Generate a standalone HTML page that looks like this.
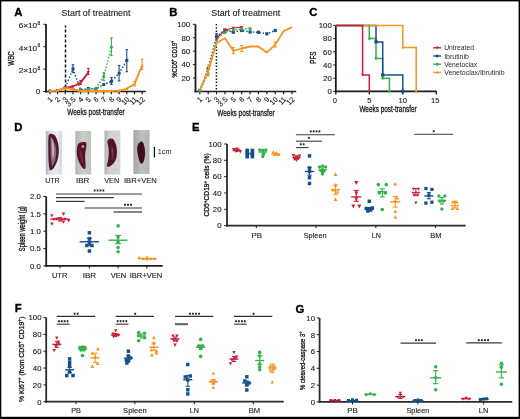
<!DOCTYPE html><html><head><meta charset="utf-8"><style>html,body{margin:0;padding:0;background:#fff;width:520px;height:419px;overflow:hidden}svg{display:block;font-family:"Liberation Sans",sans-serif;will-change:transform}</style></head><body>
<svg width="520" height="419" viewBox="0 0 520 419">
<rect x="0" y="0" width="520" height="419" fill="#fff"/>
<text x="14.2" y="15.6" font-size="11.3" text-anchor="start" font-weight="bold" fill="#000" stroke="#000" stroke-width="0.35">A</text>
<text x="61.5" y="15.8" font-size="9.6" text-anchor="start" font-weight="normal" fill="#222" stroke="#222" stroke-width="0.12" textLength="69" lengthAdjust="spacingAndGlyphs">Start of treatment</text>
<line x1="46" y1="24" x2="46" y2="92.4" stroke="#1c1c1c" stroke-width="1.8" stroke-linecap="butt"/>
<line x1="43.4" y1="91.5" x2="46" y2="91.5" stroke="#1c1c1c" stroke-width="1" stroke-linecap="butt"/>
<text x="40.3" y="94.2" font-size="7.6" text-anchor="end" font-weight="normal" fill="#1a1a1a" stroke="#1a1a1a" stroke-width="0.12">0</text>
<line x1="43.4" y1="69.1" x2="46" y2="69.1" stroke="#1c1c1c" stroke-width="1" stroke-linecap="butt"/>
<text x="37.2" y="73.1" font-size="7.4" text-anchor="end" font-weight="normal" fill="#1a1a1a" stroke="#1a1a1a" stroke-width="0.12" textLength="18.5" lengthAdjust="spacingAndGlyphs">2×10</text>
<text x="37.4" y="69.7" font-size="4.8" text-anchor="start" font-weight="normal" fill="#1a1a1a" stroke="#1a1a1a" stroke-width="0.12">8</text>
<line x1="43.4" y1="46.7" x2="46" y2="46.7" stroke="#1c1c1c" stroke-width="1" stroke-linecap="butt"/>
<text x="37.2" y="50.7" font-size="7.4" text-anchor="end" font-weight="normal" fill="#1a1a1a" stroke="#1a1a1a" stroke-width="0.12" textLength="18.5" lengthAdjust="spacingAndGlyphs">4×10</text>
<text x="37.4" y="47.3" font-size="4.8" text-anchor="start" font-weight="normal" fill="#1a1a1a" stroke="#1a1a1a" stroke-width="0.12">8</text>
<line x1="43.4" y1="24.3" x2="46" y2="24.3" stroke="#1c1c1c" stroke-width="1" stroke-linecap="butt"/>
<text x="37.2" y="28.3" font-size="7.4" text-anchor="end" font-weight="normal" fill="#1a1a1a" stroke="#1a1a1a" stroke-width="0.12" textLength="18.5" lengthAdjust="spacingAndGlyphs">6×10</text>
<text x="37.4" y="24.9" font-size="4.8" text-anchor="start" font-weight="normal" fill="#1a1a1a" stroke="#1a1a1a" stroke-width="0.12">8</text>
<text x="13.8" y="58.5" font-size="8.2" text-anchor="middle" font-weight="normal" fill="#111" stroke="#111" stroke-width="0.3" transform="rotate(-90 13.8 58.5)" textLength="14.3" lengthAdjust="spacingAndGlyphs">WBC</text>
<line x1="45.1" y1="91.5" x2="145.8" y2="91.5" stroke="#1c1c1c" stroke-width="1.6" stroke-linecap="butt"/>
<line x1="49.9" y1="91.5" x2="49.9" y2="94.3" stroke="#1c1c1c" stroke-width="1.2" stroke-linecap="butt"/>
<text x="53" y="99.8" font-size="7.3" text-anchor="end" font-weight="normal" fill="#1a1a1a" stroke="#1a1a1a" stroke-width="0.12" transform="rotate(-45 53 99.8)">1</text>
<line x1="57.59" y1="91.5" x2="57.59" y2="94.3" stroke="#1c1c1c" stroke-width="1.2" stroke-linecap="butt"/>
<text x="60.69" y="99.8" font-size="7.3" text-anchor="end" font-weight="normal" fill="#1a1a1a" stroke="#1a1a1a" stroke-width="0.12" transform="rotate(-45 60.69 99.8)">2</text>
<line x1="65.28" y1="91.5" x2="65.28" y2="94.3" stroke="#1c1c1c" stroke-width="1.2" stroke-linecap="butt"/>
<text x="68.38" y="99.8" font-size="7.3" text-anchor="end" font-weight="normal" fill="#1a1a1a" stroke="#1a1a1a" stroke-width="0.12" transform="rotate(-45 68.38 99.8)">3</text>
<line x1="72.97" y1="91.5" x2="72.97" y2="94.3" stroke="#1c1c1c" stroke-width="1.2" stroke-linecap="butt"/>
<text x="76.07" y="99.8" font-size="7.3" text-anchor="end" font-weight="normal" fill="#1a1a1a" stroke="#1a1a1a" stroke-width="0.12" transform="rotate(-45 76.07 99.8)">3.5</text>
<line x1="80.66" y1="91.5" x2="80.66" y2="94.3" stroke="#1c1c1c" stroke-width="1.2" stroke-linecap="butt"/>
<text x="83.76" y="99.8" font-size="7.3" text-anchor="end" font-weight="normal" fill="#1a1a1a" stroke="#1a1a1a" stroke-width="0.12" transform="rotate(-45 83.76 99.8)">4</text>
<line x1="88.35" y1="91.5" x2="88.35" y2="94.3" stroke="#1c1c1c" stroke-width="1.2" stroke-linecap="butt"/>
<text x="91.45" y="99.8" font-size="7.3" text-anchor="end" font-weight="normal" fill="#1a1a1a" stroke="#1a1a1a" stroke-width="0.12" transform="rotate(-45 91.45 99.8)">5</text>
<line x1="96.04" y1="91.5" x2="96.04" y2="94.3" stroke="#1c1c1c" stroke-width="1.2" stroke-linecap="butt"/>
<text x="99.14" y="99.8" font-size="7.3" text-anchor="end" font-weight="normal" fill="#1a1a1a" stroke="#1a1a1a" stroke-width="0.12" transform="rotate(-45 99.14 99.8)">6</text>
<line x1="103.73" y1="91.5" x2="103.73" y2="94.3" stroke="#1c1c1c" stroke-width="1.2" stroke-linecap="butt"/>
<text x="106.83" y="99.8" font-size="7.3" text-anchor="end" font-weight="normal" fill="#1a1a1a" stroke="#1a1a1a" stroke-width="0.12" transform="rotate(-45 106.83 99.8)">7</text>
<line x1="111.42" y1="91.5" x2="111.42" y2="94.3" stroke="#1c1c1c" stroke-width="1.2" stroke-linecap="butt"/>
<text x="114.52" y="99.8" font-size="7.3" text-anchor="end" font-weight="normal" fill="#1a1a1a" stroke="#1a1a1a" stroke-width="0.12" transform="rotate(-45 114.52 99.8)">8</text>
<line x1="119.11" y1="91.5" x2="119.11" y2="94.3" stroke="#1c1c1c" stroke-width="1.2" stroke-linecap="butt"/>
<text x="122.21" y="99.8" font-size="7.3" text-anchor="end" font-weight="normal" fill="#1a1a1a" stroke="#1a1a1a" stroke-width="0.12" transform="rotate(-45 122.21 99.8)">9</text>
<line x1="126.8" y1="91.5" x2="126.8" y2="94.3" stroke="#1c1c1c" stroke-width="1.2" stroke-linecap="butt"/>
<text x="129.9" y="99.8" font-size="7.3" text-anchor="end" font-weight="normal" fill="#1a1a1a" stroke="#1a1a1a" stroke-width="0.12" transform="rotate(-45 129.9 99.8)">10</text>
<line x1="134.49" y1="91.5" x2="134.49" y2="94.3" stroke="#1c1c1c" stroke-width="1.2" stroke-linecap="butt"/>
<text x="137.59" y="99.8" font-size="7.3" text-anchor="end" font-weight="normal" fill="#1a1a1a" stroke="#1a1a1a" stroke-width="0.12" transform="rotate(-45 137.59 99.8)">11</text>
<line x1="142.18" y1="91.5" x2="142.18" y2="94.3" stroke="#1c1c1c" stroke-width="1.2" stroke-linecap="butt"/>
<text x="145.28" y="99.8" font-size="7.3" text-anchor="end" font-weight="normal" fill="#1a1a1a" stroke="#1a1a1a" stroke-width="0.12" transform="rotate(-45 145.28 99.8)">12</text>
<text x="67.3" y="114.8" font-size="9.3" text-anchor="start" font-weight="normal" fill="#111" stroke="#111" stroke-width="0.28" textLength="57.3" lengthAdjust="spacingAndGlyphs">Weeks post-transfer</text>
<line x1="65.5" y1="25.6" x2="65.5" y2="91.5" stroke="#111" stroke-width="1.5" stroke-dasharray="3,2" stroke-dashoffset="1"/>
<polyline points="49.9,91 57.59,90.6 65.28,87.5 72.97,68.8 80.66,90 88.35,88.5 96.04,88.8 103.73,84.5 111.42,81.4 119.11,73.3 126.8,60.4" fill="none" stroke="#15508c" stroke-width="1.5" stroke-linecap="butt" stroke-linejoin="round" stroke-dasharray="1.4,1.9"/>
<line x1="72.97" y1="64.8" x2="72.97" y2="72.4" stroke="#15508c" stroke-width="1.1" stroke-linecap="butt"/>
<line x1="71.67" y1="64.8" x2="74.27" y2="64.8" stroke="#15508c" stroke-width="1.1" stroke-linecap="butt"/>
<line x1="71.67" y1="72.4" x2="74.27" y2="72.4" stroke="#15508c" stroke-width="1.1" stroke-linecap="butt"/>
<line x1="111.42" y1="77.5" x2="111.42" y2="84.5" stroke="#15508c" stroke-width="1.1" stroke-linecap="butt"/>
<line x1="110.12" y1="77.5" x2="112.72" y2="77.5" stroke="#15508c" stroke-width="1.1" stroke-linecap="butt"/>
<line x1="110.12" y1="84.5" x2="112.72" y2="84.5" stroke="#15508c" stroke-width="1.1" stroke-linecap="butt"/>
<line x1="119.11" y1="65.4" x2="119.11" y2="80.9" stroke="#15508c" stroke-width="1.1" stroke-linecap="butt"/>
<line x1="117.81" y1="65.4" x2="120.41" y2="65.4" stroke="#15508c" stroke-width="1.1" stroke-linecap="butt"/>
<line x1="117.81" y1="80.9" x2="120.41" y2="80.9" stroke="#15508c" stroke-width="1.1" stroke-linecap="butt"/>
<line x1="126.8" y1="49.7" x2="126.8" y2="71.7" stroke="#15508c" stroke-width="1.1" stroke-linecap="butt"/>
<line x1="125.5" y1="49.7" x2="128.1" y2="49.7" stroke="#15508c" stroke-width="1.1" stroke-linecap="butt"/>
<line x1="125.5" y1="71.7" x2="128.1" y2="71.7" stroke="#15508c" stroke-width="1.1" stroke-linecap="butt"/>
<rect x="48.4" y="89.5" width="3" height="3" fill="#15508c"/>
<rect x="56.09" y="89.1" width="3" height="3" fill="#15508c"/>
<rect x="63.78" y="86" width="3" height="3" fill="#15508c"/>
<rect x="71.47" y="67.3" width="3" height="3" fill="#15508c"/>
<rect x="79.16" y="88.5" width="3" height="3" fill="#15508c"/>
<rect x="86.85" y="87" width="3" height="3" fill="#15508c"/>
<rect x="94.54" y="87.3" width="3" height="3" fill="#15508c"/>
<rect x="102.23" y="83" width="3" height="3" fill="#15508c"/>
<rect x="109.92" y="79.9" width="3" height="3" fill="#15508c"/>
<rect x="117.61" y="71.8" width="3" height="3" fill="#15508c"/>
<rect x="125.3" y="58.9" width="3" height="3" fill="#15508c"/>
<polyline points="72.97,89 80.66,90.8 88.35,89.5 96.04,88 103.73,76.6 111.42,47.1" fill="none" stroke="#33b24a" stroke-width="1.5" stroke-linecap="butt" stroke-linejoin="round" stroke-dasharray="1.4,1.9"/>
<line x1="103.73" y1="72.7" x2="103.73" y2="80.5" stroke="#33b24a" stroke-width="1.1" stroke-linecap="butt"/>
<line x1="102.43" y1="72.7" x2="105.03" y2="72.7" stroke="#33b24a" stroke-width="1.1" stroke-linecap="butt"/>
<line x1="102.43" y1="80.5" x2="105.03" y2="80.5" stroke="#33b24a" stroke-width="1.1" stroke-linecap="butt"/>
<line x1="111.42" y1="37.9" x2="111.42" y2="55.6" stroke="#33b24a" stroke-width="1.1" stroke-linecap="butt"/>
<line x1="110.12" y1="37.9" x2="112.72" y2="37.9" stroke="#33b24a" stroke-width="1.1" stroke-linecap="butt"/>
<line x1="110.12" y1="55.6" x2="112.72" y2="55.6" stroke="#33b24a" stroke-width="1.1" stroke-linecap="butt"/>
<circle cx="72.97" cy="89" r="1.54" fill="#33b24a"/>
<circle cx="80.66" cy="90.8" r="1.54" fill="#33b24a"/>
<circle cx="88.35" cy="89.5" r="1.54" fill="#33b24a"/>
<circle cx="96.04" cy="88" r="1.54" fill="#33b24a"/>
<circle cx="103.73" cy="76.6" r="1.54" fill="#33b24a"/>
<circle cx="111.42" cy="47.1" r="1.54" fill="#33b24a"/>
<polyline points="65.28,88 72.97,86.5 80.66,82.6 88.35,72.4" fill="none" stroke="#c8203c" stroke-width="1.9" stroke-linecap="butt" stroke-linejoin="round"/>
<line x1="80.66" y1="80.5" x2="80.66" y2="84.5" stroke="#c8203c" stroke-width="1.1" stroke-linecap="butt"/>
<line x1="79.36" y1="80.5" x2="81.96" y2="80.5" stroke="#c8203c" stroke-width="1.1" stroke-linecap="butt"/>
<line x1="79.36" y1="84.5" x2="81.96" y2="84.5" stroke="#c8203c" stroke-width="1.1" stroke-linecap="butt"/>
<line x1="88.35" y1="68.4" x2="88.35" y2="74.5" stroke="#c8203c" stroke-width="1.1" stroke-linecap="butt"/>
<line x1="87.05" y1="68.4" x2="89.65" y2="68.4" stroke="#c8203c" stroke-width="1.1" stroke-linecap="butt"/>
<line x1="87.05" y1="74.5" x2="89.65" y2="74.5" stroke="#c8203c" stroke-width="1.1" stroke-linecap="butt"/>
<path d="M63.67,86.71H66.89L65.28,89.77Z" fill="#c8203c"/>
<path d="M71.36,85.21H74.58L72.97,88.27Z" fill="#c8203c"/>
<path d="M79.05,81.31H82.27L80.66,84.37Z" fill="#c8203c"/>
<path d="M86.74,71.11H89.96L88.35,74.17Z" fill="#c8203c"/>
<polyline points="49.9,91 57.59,90.5 65.28,88 72.97,89.5 80.66,91 88.35,91 96.04,91 103.73,91 111.42,91 119.11,90.6 126.8,88.8 134.49,83.8 142.18,65.4" fill="none" stroke="#f7941d" stroke-width="1.9" stroke-linecap="butt" stroke-linejoin="round"/>
<line x1="134.49" y1="81.5" x2="134.49" y2="86" stroke="#f7941d" stroke-width="1.1" stroke-linecap="butt"/>
<line x1="133.19" y1="81.5" x2="135.79" y2="81.5" stroke="#f7941d" stroke-width="1.1" stroke-linecap="butt"/>
<line x1="133.19" y1="86" x2="135.79" y2="86" stroke="#f7941d" stroke-width="1.1" stroke-linecap="butt"/>
<line x1="142.18" y1="59.1" x2="142.18" y2="69.4" stroke="#f7941d" stroke-width="1.1" stroke-linecap="butt"/>
<line x1="140.88" y1="59.1" x2="143.48" y2="59.1" stroke="#f7941d" stroke-width="1.1" stroke-linecap="butt"/>
<line x1="140.88" y1="69.4" x2="143.48" y2="69.4" stroke="#f7941d" stroke-width="1.1" stroke-linecap="butt"/>
<path d="M48.29,92.29H51.51L49.9,89.23Z" fill="#f7941d"/>
<path d="M55.98,91.79H59.2L57.59,88.73Z" fill="#f7941d"/>
<path d="M63.67,89.29H66.89L65.28,86.23Z" fill="#f7941d"/>
<path d="M71.36,90.79H74.58L72.97,87.73Z" fill="#f7941d"/>
<path d="M79.05,92.29H82.27L80.66,89.23Z" fill="#f7941d"/>
<path d="M86.74,92.29H89.96L88.35,89.23Z" fill="#f7941d"/>
<path d="M94.43,92.29H97.65L96.04,89.23Z" fill="#f7941d"/>
<path d="M102.12,92.29H105.34L103.73,89.23Z" fill="#f7941d"/>
<path d="M109.81,92.29H113.03L111.42,89.23Z" fill="#f7941d"/>
<path d="M117.5,91.89H120.72L119.11,88.83Z" fill="#f7941d"/>
<path d="M125.19,90.09H128.41L126.8,87.03Z" fill="#f7941d"/>
<path d="M132.88,85.09H136.1L134.49,82.03Z" fill="#f7941d"/>
<path d="M140.57,66.69H143.79L142.18,63.63Z" fill="#f7941d"/>
<text x="169.2" y="15.6" font-size="11.3" text-anchor="start" font-weight="bold" fill="#000" stroke="#000" stroke-width="0.35">B</text>
<text x="211.2" y="16" font-size="9.6" text-anchor="start" font-weight="normal" fill="#222" stroke="#222" stroke-width="0.12" textLength="69" lengthAdjust="spacingAndGlyphs">Start of treatment</text>
<line x1="195.5" y1="24.3" x2="195.5" y2="92.4" stroke="#1c1c1c" stroke-width="1.8" stroke-linecap="butt"/>
<line x1="192.9" y1="78.06" x2="195.5" y2="78.06" stroke="#1c1c1c" stroke-width="1" stroke-linecap="butt"/>
<text x="190.2" y="80.86" font-size="7.8" text-anchor="end" font-weight="normal" fill="#1a1a1a" stroke="#1a1a1a" stroke-width="0.12">20</text>
<line x1="192.9" y1="64.62" x2="195.5" y2="64.62" stroke="#1c1c1c" stroke-width="1" stroke-linecap="butt"/>
<text x="190.2" y="67.42" font-size="7.8" text-anchor="end" font-weight="normal" fill="#1a1a1a" stroke="#1a1a1a" stroke-width="0.12">40</text>
<line x1="192.9" y1="51.18" x2="195.5" y2="51.18" stroke="#1c1c1c" stroke-width="1" stroke-linecap="butt"/>
<text x="190.2" y="53.98" font-size="7.8" text-anchor="end" font-weight="normal" fill="#1a1a1a" stroke="#1a1a1a" stroke-width="0.12">60</text>
<line x1="192.9" y1="37.74" x2="195.5" y2="37.74" stroke="#1c1c1c" stroke-width="1" stroke-linecap="butt"/>
<text x="190.2" y="40.54" font-size="7.8" text-anchor="end" font-weight="normal" fill="#1a1a1a" stroke="#1a1a1a" stroke-width="0.12">80</text>
<line x1="192.9" y1="24.3" x2="195.5" y2="24.3" stroke="#1c1c1c" stroke-width="1" stroke-linecap="butt"/>
<text x="190.2" y="27.1" font-size="7.8" text-anchor="end" font-weight="normal" fill="#1a1a1a" stroke="#1a1a1a" stroke-width="0.12">100</text>
<text x="176.6" y="59.1" font-size="7.5" text-anchor="middle" font-weight="normal" fill="#111" stroke="#111" stroke-width="0.3" transform="rotate(-90 176.6 59.1)" textLength="36.7" lengthAdjust="spacingAndGlyphs">%CD5<tspan font-size="5" dy="-2.6">+</tspan><tspan dy="2.6"> CD19</tspan><tspan font-size="5" dy="-2.6">+</tspan></text>
<line x1="194.6" y1="91.5" x2="296.2" y2="91.5" stroke="#1c1c1c" stroke-width="1.6" stroke-linecap="butt"/>
<line x1="199.8" y1="91.5" x2="199.8" y2="94.3" stroke="#1c1c1c" stroke-width="1.2" stroke-linecap="butt"/>
<text x="202.9" y="99.8" font-size="7.3" text-anchor="end" font-weight="normal" fill="#1a1a1a" stroke="#1a1a1a" stroke-width="0.12" transform="rotate(-45 202.9 99.8)">1</text>
<line x1="208.18" y1="91.5" x2="208.18" y2="94.3" stroke="#1c1c1c" stroke-width="1.2" stroke-linecap="butt"/>
<text x="211.28" y="99.8" font-size="7.3" text-anchor="end" font-weight="normal" fill="#1a1a1a" stroke="#1a1a1a" stroke-width="0.12" transform="rotate(-45 211.28 99.8)">2</text>
<line x1="216.56" y1="91.5" x2="216.56" y2="94.3" stroke="#1c1c1c" stroke-width="1.2" stroke-linecap="butt"/>
<text x="219.66" y="99.8" font-size="7.3" text-anchor="end" font-weight="normal" fill="#1a1a1a" stroke="#1a1a1a" stroke-width="0.12" transform="rotate(-45 219.66 99.8)">3</text>
<line x1="224.94" y1="91.5" x2="224.94" y2="94.3" stroke="#1c1c1c" stroke-width="1.2" stroke-linecap="butt"/>
<text x="228.04" y="99.8" font-size="7.3" text-anchor="end" font-weight="normal" fill="#1a1a1a" stroke="#1a1a1a" stroke-width="0.12" transform="rotate(-45 228.04 99.8)">3.5</text>
<line x1="233.32" y1="91.5" x2="233.32" y2="94.3" stroke="#1c1c1c" stroke-width="1.2" stroke-linecap="butt"/>
<text x="236.42" y="99.8" font-size="7.3" text-anchor="end" font-weight="normal" fill="#1a1a1a" stroke="#1a1a1a" stroke-width="0.12" transform="rotate(-45 236.42 99.8)">5</text>
<line x1="241.7" y1="91.5" x2="241.7" y2="94.3" stroke="#1c1c1c" stroke-width="1.2" stroke-linecap="butt"/>
<text x="244.8" y="99.8" font-size="7.3" text-anchor="end" font-weight="normal" fill="#1a1a1a" stroke="#1a1a1a" stroke-width="0.12" transform="rotate(-45 244.8 99.8)">6</text>
<line x1="250.08" y1="91.5" x2="250.08" y2="94.3" stroke="#1c1c1c" stroke-width="1.2" stroke-linecap="butt"/>
<text x="253.18" y="99.8" font-size="7.3" text-anchor="end" font-weight="normal" fill="#1a1a1a" stroke="#1a1a1a" stroke-width="0.12" transform="rotate(-45 253.18 99.8)">7</text>
<line x1="258.46" y1="91.5" x2="258.46" y2="94.3" stroke="#1c1c1c" stroke-width="1.2" stroke-linecap="butt"/>
<text x="261.56" y="99.8" font-size="7.3" text-anchor="end" font-weight="normal" fill="#1a1a1a" stroke="#1a1a1a" stroke-width="0.12" transform="rotate(-45 261.56 99.8)">8</text>
<line x1="266.84" y1="91.5" x2="266.84" y2="94.3" stroke="#1c1c1c" stroke-width="1.2" stroke-linecap="butt"/>
<text x="269.94" y="99.8" font-size="7.3" text-anchor="end" font-weight="normal" fill="#1a1a1a" stroke="#1a1a1a" stroke-width="0.12" transform="rotate(-45 269.94 99.8)">9</text>
<line x1="275.22" y1="91.5" x2="275.22" y2="94.3" stroke="#1c1c1c" stroke-width="1.2" stroke-linecap="butt"/>
<text x="278.32" y="99.8" font-size="7.3" text-anchor="end" font-weight="normal" fill="#1a1a1a" stroke="#1a1a1a" stroke-width="0.12" transform="rotate(-45 278.32 99.8)">10</text>
<line x1="283.6" y1="91.5" x2="283.6" y2="94.3" stroke="#1c1c1c" stroke-width="1.2" stroke-linecap="butt"/>
<text x="286.7" y="99.8" font-size="7.3" text-anchor="end" font-weight="normal" fill="#1a1a1a" stroke="#1a1a1a" stroke-width="0.12" transform="rotate(-45 286.7 99.8)">11</text>
<line x1="291.98" y1="91.5" x2="291.98" y2="94.3" stroke="#1c1c1c" stroke-width="1.2" stroke-linecap="butt"/>
<text x="295.08" y="99.8" font-size="7.3" text-anchor="end" font-weight="normal" fill="#1a1a1a" stroke="#1a1a1a" stroke-width="0.12" transform="rotate(-45 295.08 99.8)">12</text>
<text x="217.3" y="116.3" font-size="9.3" text-anchor="start" font-weight="normal" fill="#111" stroke="#111" stroke-width="0.28" textLength="57.3" lengthAdjust="spacingAndGlyphs">Weeks post-transfer</text>
<line x1="216.4" y1="24" x2="216.4" y2="91.5" stroke="#111" stroke-width="1.4" stroke-linecap="butt" stroke-dasharray="1.5,1.7"/>
<polyline points="199.8,90.5 208.18,68.4 216.56,36.5 224.94,30 233.32,32.2 241.7,30.5 250.08,32 258.46,32.3 266.84,33.8 275.22,30.5" fill="none" stroke="#15508c" stroke-width="1.5" stroke-linecap="butt" stroke-linejoin="round" stroke-dasharray="1.4,1.9"/>
<rect x="198.2" y="88.9" width="3.2" height="3.2" fill="#15508c"/>
<rect x="206.58" y="66.8" width="3.2" height="3.2" fill="#15508c"/>
<rect x="214.96" y="34.9" width="3.2" height="3.2" fill="#15508c"/>
<rect x="223.34" y="28.4" width="3.2" height="3.2" fill="#15508c"/>
<rect x="231.72" y="30.6" width="3.2" height="3.2" fill="#15508c"/>
<rect x="240.1" y="28.9" width="3.2" height="3.2" fill="#15508c"/>
<rect x="248.48" y="30.4" width="3.2" height="3.2" fill="#15508c"/>
<rect x="256.86" y="30.7" width="3.2" height="3.2" fill="#15508c"/>
<rect x="265.24" y="32.2" width="3.2" height="3.2" fill="#15508c"/>
<rect x="273.62" y="28.9" width="3.2" height="3.2" fill="#15508c"/>
<line x1="216.56" y1="33.5" x2="216.56" y2="39.5" stroke="#15508c" stroke-width="1.1" stroke-linecap="butt"/>
<line x1="215.26" y1="33.5" x2="217.86" y2="33.5" stroke="#15508c" stroke-width="1.1" stroke-linecap="butt"/>
<line x1="215.26" y1="39.5" x2="217.86" y2="39.5" stroke="#15508c" stroke-width="1.1" stroke-linecap="butt"/>
<polyline points="199.8,90.8 208.18,73.5 216.56,39.7 224.94,32.5 233.32,29.9 241.7,29 250.08,28.5" fill="none" stroke="#33b24a" stroke-width="1.5" stroke-linecap="butt" stroke-linejoin="round" stroke-dasharray="1.4,1.9"/>
<circle cx="199.8" cy="90.8" r="1.54" fill="#33b24a"/>
<circle cx="208.18" cy="73.5" r="1.54" fill="#33b24a"/>
<circle cx="216.56" cy="39.7" r="1.54" fill="#33b24a"/>
<circle cx="224.94" cy="32.5" r="1.54" fill="#33b24a"/>
<circle cx="233.32" cy="29.9" r="1.54" fill="#33b24a"/>
<circle cx="241.7" cy="29" r="1.54" fill="#33b24a"/>
<circle cx="250.08" cy="28.5" r="1.54" fill="#33b24a"/>
<polyline points="216.56,38.5 224.94,30 233.32,28 241.7,27.2" fill="none" stroke="#c8203c" stroke-width="1.2" stroke-linecap="butt" stroke-linejoin="round"/>
<path d="M214.95,37.21H218.17L216.56,40.27Z" fill="#c8203c"/>
<path d="M223.33,28.71H226.55L224.94,31.77Z" fill="#c8203c"/>
<path d="M231.71,26.71H234.93L233.32,29.77Z" fill="#c8203c"/>
<path d="M240.09,25.91H243.31L241.7,28.97Z" fill="#c8203c"/>
<polyline points="199.8,90 208.18,71 216.56,43 224.94,38.2 233.32,50.8 241.7,48.5 250.08,46.5 258.46,46.5 266.84,52.6 275.22,44.6 283.6,31.1 291.98,27.2" fill="none" stroke="#f7941d" stroke-width="1.8" stroke-linecap="butt" stroke-linejoin="round"/>
<line x1="208.18" y1="65" x2="208.18" y2="76" stroke="#f7941d" stroke-width="1.1" stroke-linecap="butt"/>
<line x1="206.68" y1="65" x2="209.68" y2="65" stroke="#f7941d" stroke-width="1.1" stroke-linecap="butt"/>
<line x1="206.68" y1="76" x2="209.68" y2="76" stroke="#f7941d" stroke-width="1.1" stroke-linecap="butt"/>
<line x1="233.32" y1="47.5" x2="233.32" y2="53.5" stroke="#f7941d" stroke-width="1.1" stroke-linecap="butt"/>
<line x1="231.82" y1="47.5" x2="234.82" y2="47.5" stroke="#f7941d" stroke-width="1.1" stroke-linecap="butt"/>
<line x1="231.82" y1="53.5" x2="234.82" y2="53.5" stroke="#f7941d" stroke-width="1.1" stroke-linecap="butt"/>
<line x1="241.7" y1="45.5" x2="241.7" y2="51.5" stroke="#f7941d" stroke-width="1.1" stroke-linecap="butt"/>
<line x1="240.2" y1="45.5" x2="243.2" y2="45.5" stroke="#f7941d" stroke-width="1.1" stroke-linecap="butt"/>
<line x1="240.2" y1="51.5" x2="243.2" y2="51.5" stroke="#f7941d" stroke-width="1.1" stroke-linecap="butt"/>
<line x1="275.22" y1="42" x2="275.22" y2="47" stroke="#f7941d" stroke-width="1.1" stroke-linecap="butt"/>
<line x1="273.72" y1="42" x2="276.72" y2="42" stroke="#f7941d" stroke-width="1.1" stroke-linecap="butt"/>
<line x1="273.72" y1="47" x2="276.72" y2="47" stroke="#f7941d" stroke-width="1.1" stroke-linecap="butt"/>
<text x="309.2" y="15.6" font-size="11.3" text-anchor="start" font-weight="bold" fill="#000" stroke="#000" stroke-width="0.35">C</text>
<text x="315.8" y="57.6" font-size="8.2" text-anchor="middle" font-weight="normal" fill="#111" stroke="#111" stroke-width="0.3" transform="rotate(-90 315.8 57.6)" textLength="12.2" lengthAdjust="spacingAndGlyphs">PFS</text>
<line x1="335.8" y1="25.4" x2="335.8" y2="92.3" stroke="#1c1c1c" stroke-width="1.8" stroke-linecap="butt"/>
<line x1="333.2" y1="91.4" x2="335.8" y2="91.4" stroke="#1c1c1c" stroke-width="1" stroke-linecap="butt"/>
<text x="331.8" y="94.2" font-size="7.8" text-anchor="end" font-weight="normal" fill="#222" stroke="#222" stroke-width="0.12">0</text>
<line x1="333.2" y1="78.2" x2="335.8" y2="78.2" stroke="#1c1c1c" stroke-width="1" stroke-linecap="butt"/>
<text x="331.8" y="81" font-size="7.8" text-anchor="end" font-weight="normal" fill="#222" stroke="#222" stroke-width="0.12">20</text>
<line x1="333.2" y1="65" x2="335.8" y2="65" stroke="#1c1c1c" stroke-width="1" stroke-linecap="butt"/>
<text x="331.8" y="67.8" font-size="7.8" text-anchor="end" font-weight="normal" fill="#222" stroke="#222" stroke-width="0.12">40</text>
<line x1="333.2" y1="51.8" x2="335.8" y2="51.8" stroke="#1c1c1c" stroke-width="1" stroke-linecap="butt"/>
<text x="331.8" y="54.6" font-size="7.8" text-anchor="end" font-weight="normal" fill="#222" stroke="#222" stroke-width="0.12">60</text>
<line x1="333.2" y1="38.6" x2="335.8" y2="38.6" stroke="#1c1c1c" stroke-width="1" stroke-linecap="butt"/>
<text x="331.8" y="41.4" font-size="7.8" text-anchor="end" font-weight="normal" fill="#222" stroke="#222" stroke-width="0.12">80</text>
<line x1="333.2" y1="25.4" x2="335.8" y2="25.4" stroke="#1c1c1c" stroke-width="1" stroke-linecap="butt"/>
<text x="331.8" y="28.2" font-size="7.8" text-anchor="end" font-weight="normal" fill="#222" stroke="#222" stroke-width="0.12">100</text>
<line x1="334.9" y1="91.4" x2="436.8" y2="91.4" stroke="#1c1c1c" stroke-width="1.6" stroke-linecap="butt"/>
<line x1="335.8" y1="91.4" x2="335.8" y2="94.4" stroke="#1c1c1c" stroke-width="1.3" stroke-linecap="butt"/>
<text x="334.8" y="103" font-size="7.6" text-anchor="middle" font-weight="normal" fill="#1a1a1a" stroke="#1a1a1a" stroke-width="0.12">0</text>
<line x1="369.3" y1="91.4" x2="369.3" y2="94.4" stroke="#1c1c1c" stroke-width="1.3" stroke-linecap="butt"/>
<text x="369.3" y="103" font-size="7.6" text-anchor="middle" font-weight="normal" fill="#1a1a1a" stroke="#1a1a1a" stroke-width="0.12">5</text>
<line x1="402.8" y1="91.4" x2="402.8" y2="94.4" stroke="#1c1c1c" stroke-width="1.3" stroke-linecap="butt"/>
<text x="402.8" y="103" font-size="7.6" text-anchor="middle" font-weight="normal" fill="#1a1a1a" stroke="#1a1a1a" stroke-width="0.12">10</text>
<line x1="436.3" y1="91.4" x2="436.3" y2="94.4" stroke="#1c1c1c" stroke-width="1.3" stroke-linecap="butt"/>
<text x="435.3" y="103" font-size="7.6" text-anchor="middle" font-weight="normal" fill="#1a1a1a" stroke="#1a1a1a" stroke-width="0.12">15</text>
<text x="359.4" y="112.3" font-size="9.3" text-anchor="start" font-weight="normal" fill="#111" stroke="#111" stroke-width="0.28" textLength="57.3" lengthAdjust="spacingAndGlyphs">Weeks post-transfer</text>
<path d="M335.8,25.4H369.3V25.4H369.3V38.6H376V38.6H376V58.4H382.7V58.4H382.7V78.2H389.4V78.2H389.4V91.4" fill="none" stroke="#33b24a" stroke-width="1.5"/>
<circle cx="369.3" cy="38.6" r="1.43" fill="#33b24a"/>
<circle cx="376" cy="58.4" r="1.43" fill="#33b24a"/>
<circle cx="382.7" cy="78.2" r="1.43" fill="#33b24a"/>
<circle cx="389.4" cy="91.4" r="1.43" fill="#33b24a"/>
<path d="M335.8,25.4H376V25.4H376V41.9H382.7V41.9H382.7V74.9H402.8V74.9H402.8V91.4" fill="none" stroke="#15508c" stroke-width="1.5"/>
<rect x="374.4" y="40.3" width="3.2" height="3.2" fill="#15508c"/>
<rect x="381.1" y="73.3" width="3.2" height="3.2" fill="#15508c"/>
<rect x="401.2" y="89.8" width="3.2" height="3.2" fill="#15508c"/>
<path d="M335.8,25.4H402.8V25.4H402.8V47.38H416.2V47.38H416.2V91.4" fill="none" stroke="#f7941d" stroke-width="1.5"/>
<path d="M401.42,48.48H404.18L402.8,45.86Z" fill="#f7941d"/>
<path d="M414.82,92.5H417.58L416.2,89.88Z" fill="#f7941d"/>
<path d="M335.8,25.4H362.6V25.4H362.6V74.9H369.3V74.9H369.3V91.4" fill="none" stroke="#c8203c" stroke-width="1.5"/>
<path d="M361.22,73.8H363.98L362.6,76.42Z" fill="#c8203c"/>
<path d="M367.92,90.3H370.68L369.3,92.92Z" fill="#c8203c"/>
<line x1="433.2" y1="47.8" x2="441.1" y2="47.8" stroke="#c8203c" stroke-width="1.4" stroke-linecap="butt"/>
<path d="M435.7,46.6H438.69L437.2,49.44Z" fill="#c8203c"/>
<text x="444.2" y="50.3" font-size="6.6" text-anchor="start" font-weight="normal" fill="#2a2a2a" textLength="29.8" lengthAdjust="spacingAndGlyphs">Untreated</text>
<line x1="433.2" y1="56" x2="441.1" y2="56" stroke="#15508c" stroke-width="1.4" stroke-linecap="butt"/>
<rect x="435.9" y="54.7" width="2.6" height="2.6" fill="#15508c"/>
<text x="444.2" y="58.5" font-size="6.6" text-anchor="start" font-weight="normal" fill="#2a2a2a" textLength="24.7" lengthAdjust="spacingAndGlyphs">Ibrutinib</text>
<line x1="433.2" y1="64.2" x2="441.1" y2="64.2" stroke="#33b24a" stroke-width="1.4" stroke-linecap="butt"/>
<circle cx="437.2" cy="64.2" r="1.43" fill="#33b24a"/>
<text x="444.2" y="66.7" font-size="6.6" text-anchor="start" font-weight="normal" fill="#2a2a2a" textLength="32.9" lengthAdjust="spacingAndGlyphs">Venetoclax</text>
<line x1="433.2" y1="72.4" x2="441.1" y2="72.4" stroke="#f7941d" stroke-width="1.4" stroke-linecap="butt"/>
<path d="M435.7,73.6H438.69L437.2,70.76Z" fill="#f7941d"/>
<text x="444.2" y="74.9" font-size="6.6" text-anchor="start" font-weight="normal" fill="#2a2a2a" textLength="60.3" lengthAdjust="spacingAndGlyphs">Venetoclax/Ibrutinib</text>
<text x="14.2" y="131" font-size="11.3" text-anchor="start" font-weight="bold" fill="#000" stroke="#000" stroke-width="0.35">D</text>
<defs><linearGradient id="p1" x1="0" x2="1"><stop offset="0" stop-color="#aab2c2"/><stop offset="0.25" stop-color="#dfe3ea"/><stop offset="0.7" stop-color="#eef0f4"/><stop offset="1" stop-color="#d6dae2"/></linearGradient><linearGradient id="p2" x1="0" x2="1"><stop offset="0" stop-color="#b4b8b0"/><stop offset="0.5" stop-color="#cdd0c9"/><stop offset="1" stop-color="#c2c5be"/></linearGradient><linearGradient id="p3" x1="0" x2="1"><stop offset="0" stop-color="#b0b1ad"/><stop offset="0.3" stop-color="#d3d4d0"/><stop offset="1" stop-color="#d8d9d5"/></linearGradient><linearGradient id="p4" x1="0" x2="1"><stop offset="0" stop-color="#a3a5a0"/><stop offset="0.5" stop-color="#c0c1bd"/><stop offset="1" stop-color="#b3b4b0"/></linearGradient></defs>
<defs><filter id="tx" x="0" y="0" width="1" height="1"><feTurbulence type="fractalNoise" baseFrequency="0.35" numOctaves="2" seed="3" result="n"/><feColorMatrix in="n" type="matrix" values="0 0 0 0 0.45  0 0 0 0 0.45  0 0 0 0 0.45  0 0 0 -1.6 1.05" result="m"/><feComposite in="m" in2="SourceGraphic" operator="in"/></filter></defs>
<rect x="45.8" y="131" width="16.1" height="43.5" fill="url(#p1)"/>
<rect x="45.8" y="131" width="16.1" height="43.5" fill="#888" filter="url(#tx)" opacity="0.35"/>
<rect x="75.3" y="131" width="15.8" height="43.5" fill="url(#p2)"/>
<rect x="75.3" y="131" width="15.8" height="43.5" fill="#888" filter="url(#tx)" opacity="0.35"/>
<rect x="104.5" y="130.6" width="15.8" height="43.9" fill="url(#p3)"/>
<rect x="104.5" y="130.6" width="15.8" height="43.9" fill="#888" filter="url(#tx)" opacity="0.35"/>
<rect x="133.4" y="130.1" width="16.1" height="43.8" fill="url(#p4)"/>
<rect x="133.4" y="130.1" width="16.1" height="43.8" fill="#888" filter="url(#tx)" opacity="0.35"/>
<path d="M49.6,134 C51.6,133.3 54,133.8 55.6,136.4 C58.1,140.5 58.9,146 58.8,151 C58.7,158 56.6,164.5 53.4,168.6 C52.2,170 50.8,170.6 49.8,170.2 C48.6,166 48.3,160 48.3,152 C48.3,145 48.2,139.5 48.5,136.4 C48.7,135 49,134.3 49.6,134 Z" fill="#54172a"/>
<path d="M50.6,136.4 C53.6,139.5 56.1,145 56.3,151 C56.5,157 55,162.8 52.2,166.8 C51,162 50.6,156 50.6,150 C50.6,144 50.4,139.5 50.6,136.4 Z" fill="#8a6878"/>
<path d="M51.6,137.8 C53.3,141 54.2,146 54.1,151 C54,155 53.5,158 52.9,160 C52.2,156 52,150 51.8,145 Z" fill="#c7b3bd"/>
<path d="M78.9,143.2 C80.8,142.2 84,141.8 86.2,142.4 C86.8,144.5 86.3,147 85.8,150 C85.2,153 85,156 85.3,160 C85.6,163 85.8,166 85.5,168.6 C84.6,169.4 83.4,168.9 82.2,167.4 C80.2,165 78.2,161 77.2,156.5 C76.6,153 76.8,149 77.4,146 C77.8,144.6 78.3,143.6 78.9,143.2 Z" fill="#54172a"/>
<path d="M79.6,149 C81,152 82.4,157 83.4,164 C81.8,161 80,156 79.6,149 Z" fill="#7a3a50"/>
<circle cx="82.9" cy="146.5" r="1.3" fill="#d4aab8"/>
<path d="M110.4,138.6 C111.4,138.4 112.4,138.5 113.2,139.1 C115.2,141.8 116.6,145.5 116.8,149.2 C117,153 116.8,156 116.2,158.2 C115.5,160.5 114.4,162.5 112.9,163.9 C111.6,165.2 110,166.4 108.7,166.7 C107.6,166.9 106.9,166.3 106.9,165.5 C107.2,163.5 108,161 108.4,158.2 C108.8,155 108.8,152 108.6,149.2 C108.4,146.5 108,145 107.6,143.6 C107.3,142.3 107.4,141 107.8,140.2 C108.5,139.3 109.5,138.8 110.4,138.6 Z" fill="#50142a"/>
<path d="M111,144 C113,147 113.8,151 113.6,155 C113.4,158 112.6,160 111.6,161.5 C111.8,158 111.9,154 111.8,151 C111.7,148 111.4,146 111,144 Z" fill="#74344a"/>
<circle cx="112.3" cy="150.5" r="0.8" fill="#9a6a7e"/>
<path d="M141.7,141.4 C143,141.6 144,144 144.5,147 C145,150 145.2,152.5 145,154.8 C144.8,157.8 144.2,160.4 143.4,162.1 C142.8,163.3 142,163.9 141.1,163.8 C139.9,162.8 138.9,160.2 138.3,157.1 C137.7,154 137.1,151 137.2,148.1 C137.3,146 137.9,144.2 138.9,143 C139.8,142 140.7,141.4 141.7,141.4 Z" fill="#3e0e1c"/>
<line x1="154.4" y1="146.7" x2="154.4" y2="157.6" stroke="#111" stroke-width="1.2" stroke-linecap="butt"/>
<text x="157.7" y="154.3" font-size="7.2" text-anchor="start" font-weight="normal" fill="#222" textLength="13.8" lengthAdjust="spacingAndGlyphs">1cm</text>
<text x="52.4" y="183.3" font-size="7.6" text-anchor="middle" font-weight="normal" fill="#222" stroke="#222" stroke-width="0.12" textLength="14.4" lengthAdjust="spacingAndGlyphs">UTR</text>
<text x="82.7" y="183.3" font-size="7.6" text-anchor="middle" font-weight="normal" fill="#222" stroke="#222" stroke-width="0.12" textLength="13.4" lengthAdjust="spacingAndGlyphs">IBR</text>
<text x="111.7" y="183.3" font-size="7.6" text-anchor="middle" font-weight="normal" fill="#222" stroke="#222" stroke-width="0.12" textLength="15" lengthAdjust="spacingAndGlyphs">VEN</text>
<text x="140.4" y="183.3" font-size="7.6" text-anchor="middle" font-weight="normal" fill="#222" stroke="#222" stroke-width="0.12" textLength="33" lengthAdjust="spacingAndGlyphs">IBR+VEN</text>
<line x1="46.2" y1="196.5" x2="46.2" y2="266.8" stroke="#1c1c1c" stroke-width="1.8" stroke-linecap="butt"/>
<line x1="43.4" y1="265.9" x2="46.2" y2="265.9" stroke="#1c1c1c" stroke-width="1" stroke-linecap="butt"/>
<text x="40.8" y="268.7" font-size="7.8" text-anchor="end" font-weight="normal" fill="#1a1a1a" stroke="#1a1a1a" stroke-width="0.12">0.0</text>
<line x1="43.4" y1="248.55" x2="46.2" y2="248.55" stroke="#1c1c1c" stroke-width="1" stroke-linecap="butt"/>
<text x="40.8" y="251.35" font-size="7.8" text-anchor="end" font-weight="normal" fill="#1a1a1a" stroke="#1a1a1a" stroke-width="0.12">0.5</text>
<line x1="43.4" y1="231.2" x2="46.2" y2="231.2" stroke="#1c1c1c" stroke-width="1" stroke-linecap="butt"/>
<text x="40.8" y="234" font-size="7.8" text-anchor="end" font-weight="normal" fill="#1a1a1a" stroke="#1a1a1a" stroke-width="0.12">1.0</text>
<line x1="43.4" y1="213.85" x2="46.2" y2="213.85" stroke="#1c1c1c" stroke-width="1" stroke-linecap="butt"/>
<text x="40.8" y="216.65" font-size="7.8" text-anchor="end" font-weight="normal" fill="#1a1a1a" stroke="#1a1a1a" stroke-width="0.12">1.5</text>
<line x1="43.4" y1="196.5" x2="46.2" y2="196.5" stroke="#1c1c1c" stroke-width="1" stroke-linecap="butt"/>
<text x="40.8" y="199.3" font-size="7.8" text-anchor="end" font-weight="normal" fill="#1a1a1a" stroke="#1a1a1a" stroke-width="0.12">2.0</text>
<text x="25.5" y="228.7" font-size="8.2" text-anchor="middle" font-weight="normal" fill="#111" stroke="#111" stroke-width="0.3" transform="rotate(-90 25.5 228.7)" textLength="45" lengthAdjust="spacingAndGlyphs">Spleen weight (g)</text>
<line x1="45.3" y1="265.9" x2="162.7" y2="265.9" stroke="#1c1c1c" stroke-width="1.6" stroke-linecap="butt"/>
<line x1="60" y1="265.9" x2="60" y2="268.4" stroke="#1c1c1c" stroke-width="1" stroke-linecap="butt"/>
<line x1="89.4" y1="265.9" x2="89.4" y2="268.4" stroke="#1c1c1c" stroke-width="1" stroke-linecap="butt"/>
<line x1="118.1" y1="265.9" x2="118.1" y2="268.4" stroke="#1c1c1c" stroke-width="1" stroke-linecap="butt"/>
<line x1="146.8" y1="265.9" x2="146.8" y2="268.4" stroke="#1c1c1c" stroke-width="1" stroke-linecap="butt"/>
<text x="59.6" y="277.8" font-size="7.6" text-anchor="middle" font-weight="normal" fill="#1a1a1a" stroke="#1a1a1a" stroke-width="0.12" textLength="15.4" lengthAdjust="spacingAndGlyphs">UTR</text>
<text x="89.4" y="277.8" font-size="7.6" text-anchor="middle" font-weight="normal" fill="#1a1a1a" stroke="#1a1a1a" stroke-width="0.12" textLength="13.4" lengthAdjust="spacingAndGlyphs">IBR</text>
<text x="118.4" y="277.8" font-size="7.6" text-anchor="middle" font-weight="normal" fill="#1a1a1a" stroke="#1a1a1a" stroke-width="0.12" textLength="15.5" lengthAdjust="spacingAndGlyphs">VEN</text>
<text x="146" y="277.8" font-size="7.6" text-anchor="middle" font-weight="normal" fill="#1a1a1a" stroke="#1a1a1a" stroke-width="0.12" textLength="32.6" lengthAdjust="spacingAndGlyphs">IBR+VEN</text>
<line x1="56" y1="194" x2="142" y2="194" stroke="#3a3a3a" stroke-width="1.2" stroke-linecap="butt"/>
<line x1="56" y1="197.6" x2="113.8" y2="197.6" stroke="#3a3a3a" stroke-width="1.2" stroke-linecap="butt"/>
<line x1="56" y1="201.4" x2="84.7" y2="201.4" stroke="#3a3a3a" stroke-width="1.2" stroke-linecap="butt"/>
<line x1="84.7" y1="208" x2="142" y2="208" stroke="#3a3a3a" stroke-width="1.2" stroke-linecap="butt"/>
<line x1="113.5" y1="212" x2="142" y2="212" stroke="#3a3a3a" stroke-width="1.2" stroke-linecap="butt"/>
<path d="M94.65,189.41V191.59M93.7,189.95L95.6,191.05M93.7,191.05L95.6,189.95" stroke="#1a1a1a" stroke-width="0.75"/>
<circle cx="94.65" cy="190.5" r="0.57" fill="#1a1a1a"/>
<path d="M97.55,189.41V191.59M96.6,189.95L98.5,191.05M96.6,191.05L98.5,189.95" stroke="#1a1a1a" stroke-width="0.75"/>
<circle cx="97.55" cy="190.5" r="0.57" fill="#1a1a1a"/>
<path d="M100.45,189.41V191.59M99.5,189.95L101.4,191.05M99.5,191.05L101.4,189.95" stroke="#1a1a1a" stroke-width="0.75"/>
<circle cx="100.45" cy="190.5" r="0.57" fill="#1a1a1a"/>
<path d="M103.35,189.41V191.59M102.4,189.95L104.3,191.05M102.4,191.05L104.3,189.95" stroke="#1a1a1a" stroke-width="0.75"/>
<circle cx="103.35" cy="190.5" r="0.57" fill="#1a1a1a"/>
<path d="M125,203.61V205.79M124.05,204.15L125.95,205.25M124.05,205.25L125.95,204.15" stroke="#1a1a1a" stroke-width="0.75"/>
<circle cx="125" cy="204.7" r="0.57" fill="#1a1a1a"/>
<path d="M128,203.61V205.79M127.05,204.15L128.95,205.25M127.05,205.25L128.95,204.15" stroke="#1a1a1a" stroke-width="0.75"/>
<circle cx="128" cy="204.7" r="0.57" fill="#1a1a1a"/>
<path d="M131,203.61V205.79M130.05,204.15L131.95,205.25M130.05,205.25L131.95,204.15" stroke="#1a1a1a" stroke-width="0.75"/>
<circle cx="131" cy="204.7" r="0.57" fill="#1a1a1a"/>
<line x1="50.3" y1="219.2" x2="69.7" y2="219.2" stroke="#c8203c" stroke-width="1.4" stroke-linecap="butt"/>
<line x1="60" y1="217.6" x2="60" y2="221" stroke="#c8203c" stroke-width="1.1" stroke-linecap="butt"/>
<line x1="58" y1="217.6" x2="62" y2="217.6" stroke="#c8203c" stroke-width="1.1" stroke-linecap="butt"/>
<line x1="58" y1="221" x2="62" y2="221" stroke="#c8203c" stroke-width="1.1" stroke-linecap="butt"/>
<path d="M50.16,214.21H53.64L51.9,217.51Z" fill="#c8203c"/>
<path d="M50.16,222.41H53.64L51.9,225.71Z" fill="#c8203c"/>
<path d="M61.76,212.61H65.24L63.5,215.91Z" fill="#c8203c"/>
<path d="M61.76,220.51H65.24L63.5,223.81Z" fill="#c8203c"/>
<path d="M55.26,217.61H58.74L57,220.91Z" fill="#c8203c"/>
<path d="M58.26,217.11H61.74L60,220.41Z" fill="#c8203c"/>
<path d="M60.26,218.61H63.74L62,221.91Z" fill="#c8203c"/>
<path d="M63.26,217.81H66.74L65,221.11Z" fill="#c8203c"/>
<path d="M66.96,219.21H70.44L68.7,222.51Z" fill="#c8203c"/>
<path d="M52.26,218.01H55.74L54,221.31Z" fill="#c8203c"/>
<line x1="79.65" y1="241.8" x2="99.15" y2="241.8" stroke="#15508c" stroke-width="1.4" stroke-linecap="butt"/>
<line x1="89.4" y1="238.2" x2="89.4" y2="245.4" stroke="#15508c" stroke-width="1.1" stroke-linecap="butt"/>
<line x1="86.7" y1="238.2" x2="92.1" y2="238.2" stroke="#15508c" stroke-width="1.1" stroke-linecap="butt"/>
<line x1="86.7" y1="245.4" x2="92.1" y2="245.4" stroke="#15508c" stroke-width="1.1" stroke-linecap="butt"/>
<rect x="87.67" y="231.07" width="3.46" height="3.46" fill="#15508c"/>
<rect x="87.67" y="237.07" width="3.46" height="3.46" fill="#15508c"/>
<rect x="87.67" y="240.57" width="3.46" height="3.46" fill="#15508c"/>
<rect x="85.17" y="243.77" width="3.46" height="3.46" fill="#15508c"/>
<rect x="90.17" y="243.77" width="3.46" height="3.46" fill="#15508c"/>
<rect x="87.67" y="249.27" width="3.46" height="3.46" fill="#15508c"/>
<line x1="108.6" y1="240.2" x2="127.6" y2="240.2" stroke="#33b24a" stroke-width="1.4" stroke-linecap="butt"/>
<line x1="118.1" y1="235.4" x2="118.1" y2="243.7" stroke="#33b24a" stroke-width="1.1" stroke-linecap="butt"/>
<line x1="115.1" y1="235.4" x2="121.1" y2="235.4" stroke="#33b24a" stroke-width="1.1" stroke-linecap="butt"/>
<line x1="115.1" y1="243.7" x2="121.1" y2="243.7" stroke="#33b24a" stroke-width="1.1" stroke-linecap="butt"/>
<circle cx="118.1" cy="225.9" r="1.78" fill="#33b24a"/>
<circle cx="118.1" cy="237.1" r="1.78" fill="#33b24a"/>
<circle cx="118.1" cy="242.3" r="1.78" fill="#33b24a"/>
<circle cx="118.1" cy="247.5" r="1.78" fill="#33b24a"/>
<circle cx="118.1" cy="251.8" r="1.78" fill="#33b24a"/>
<line x1="137.7" y1="258.6" x2="156.3" y2="258.6" stroke="#f7941d" stroke-width="1.4" stroke-linecap="butt"/>
<line x1="147" y1="257" x2="147" y2="260" stroke="#f7941d" stroke-width="1.1" stroke-linecap="butt"/>
<line x1="145.7" y1="257" x2="148.3" y2="257" stroke="#f7941d" stroke-width="1.1" stroke-linecap="butt"/>
<line x1="145.7" y1="260" x2="148.3" y2="260" stroke="#f7941d" stroke-width="1.1" stroke-linecap="butt"/>
<path d="M137.39,258.79H140.61L139,255.72Z" fill="#f7941d"/>
<path d="M141.39,259.89H144.61L143,256.82Z" fill="#f7941d"/>
<path d="M145.39,259.79H148.61L147,256.72Z" fill="#f7941d"/>
<path d="M149.39,260.09H152.61L151,257.02Z" fill="#f7941d"/>
<path d="M153.39,259.89H156.61L155,256.82Z" fill="#f7941d"/>
<text x="191.9" y="130.9" font-size="11.3" text-anchor="start" font-weight="bold" fill="#000" stroke="#000" stroke-width="0.35">E</text>
<line x1="227" y1="143.9" x2="227" y2="226.5" stroke="#2a2a2a" stroke-width="1.8" stroke-linecap="butt"/>
<line x1="224.2" y1="225.6" x2="227" y2="225.6" stroke="#1c1c1c" stroke-width="1" stroke-linecap="butt"/>
<text x="221.5" y="228.4" font-size="7.8" text-anchor="end" font-weight="normal" fill="#1a1a1a" stroke="#1a1a1a" stroke-width="0.12">0</text>
<line x1="224.2" y1="209.28" x2="227" y2="209.28" stroke="#1c1c1c" stroke-width="1" stroke-linecap="butt"/>
<text x="221.5" y="212.08" font-size="7.8" text-anchor="end" font-weight="normal" fill="#1a1a1a" stroke="#1a1a1a" stroke-width="0.12">20</text>
<line x1="224.2" y1="192.96" x2="227" y2="192.96" stroke="#1c1c1c" stroke-width="1" stroke-linecap="butt"/>
<text x="221.5" y="195.76" font-size="7.8" text-anchor="end" font-weight="normal" fill="#1a1a1a" stroke="#1a1a1a" stroke-width="0.12">40</text>
<line x1="224.2" y1="176.64" x2="227" y2="176.64" stroke="#1c1c1c" stroke-width="1" stroke-linecap="butt"/>
<text x="221.5" y="179.44" font-size="7.8" text-anchor="end" font-weight="normal" fill="#1a1a1a" stroke="#1a1a1a" stroke-width="0.12">60</text>
<line x1="224.2" y1="160.32" x2="227" y2="160.32" stroke="#1c1c1c" stroke-width="1" stroke-linecap="butt"/>
<text x="221.5" y="163.12" font-size="7.8" text-anchor="end" font-weight="normal" fill="#1a1a1a" stroke="#1a1a1a" stroke-width="0.12">80</text>
<line x1="224.2" y1="144" x2="227" y2="144" stroke="#1c1c1c" stroke-width="1" stroke-linecap="butt"/>
<text x="221.5" y="146.8" font-size="7.8" text-anchor="end" font-weight="normal" fill="#1a1a1a" stroke="#1a1a1a" stroke-width="0.12">100</text>
<text x="209.2" y="184.9" font-size="7.9" text-anchor="middle" font-weight="normal" fill="#111" stroke="#111" stroke-width="0.3" transform="rotate(-90 209.2 184.9)" textLength="63.3" lengthAdjust="spacingAndGlyphs">CD5<tspan font-size="5.5" dy="-2.6">+</tspan><tspan dy="2.6">CD19</tspan><tspan font-size="5.5" dy="-2.6">+</tspan><tspan dy="2.6"> cells (%)</tspan></text>
<line x1="226.1" y1="225.6" x2="465.6" y2="225.6" stroke="#2a2a2a" stroke-width="1.8" stroke-linecap="butt"/>
<line x1="256.3" y1="225.6" x2="256.3" y2="228.1" stroke="#1c1c1c" stroke-width="1" stroke-linecap="butt"/>
<text x="256.8" y="238.2" font-size="7.6" text-anchor="middle" font-weight="normal" fill="#1a1a1a" stroke="#1a1a1a" stroke-width="0.12" textLength="10.5" lengthAdjust="spacingAndGlyphs">PB</text>
<line x1="316" y1="225.6" x2="316" y2="228.1" stroke="#1c1c1c" stroke-width="1" stroke-linecap="butt"/>
<text x="315.2" y="238.2" font-size="7.6" text-anchor="middle" font-weight="normal" fill="#1a1a1a" stroke="#1a1a1a" stroke-width="0.12" textLength="23" lengthAdjust="spacingAndGlyphs">Spleen</text>
<line x1="375.8" y1="225.6" x2="375.8" y2="228.1" stroke="#1c1c1c" stroke-width="1" stroke-linecap="butt"/>
<text x="376.3" y="238.2" font-size="7.6" text-anchor="middle" font-weight="normal" fill="#1a1a1a" stroke="#1a1a1a" stroke-width="0.12" textLength="9.1" lengthAdjust="spacingAndGlyphs">LN</text>
<line x1="435.4" y1="225.6" x2="435.4" y2="228.1" stroke="#1c1c1c" stroke-width="1" stroke-linecap="butt"/>
<text x="435.9" y="238.2" font-size="7.6" text-anchor="middle" font-weight="normal" fill="#1a1a1a" stroke="#1a1a1a" stroke-width="0.12" textLength="11.3" lengthAdjust="spacingAndGlyphs">BM</text>
<line x1="295.9" y1="134.7" x2="334.8" y2="134.7" stroke="#3a3a3a" stroke-width="1.1" stroke-linecap="butt"/>
<line x1="295.9" y1="141.2" x2="321.8" y2="141.2" stroke="#3a3a3a" stroke-width="1.1" stroke-linecap="butt"/>
<line x1="295.9" y1="147.6" x2="308.7" y2="147.6" stroke="#3a3a3a" stroke-width="1.1" stroke-linecap="butt"/>
<line x1="414.3" y1="134.3" x2="453.1" y2="134.3" stroke="#3a3a3a" stroke-width="1.1" stroke-linecap="butt"/>
<path d="M310.75,130.31V132.49M309.8,130.85L311.7,131.95M309.8,131.95L311.7,130.85" stroke="#1a1a1a" stroke-width="0.75"/>
<circle cx="310.75" cy="131.4" r="0.57" fill="#1a1a1a"/>
<path d="M313.65,130.31V132.49M312.7,130.85L314.6,131.95M312.7,131.95L314.6,130.85" stroke="#1a1a1a" stroke-width="0.75"/>
<circle cx="313.65" cy="131.4" r="0.57" fill="#1a1a1a"/>
<path d="M316.55,130.31V132.49M315.6,130.85L317.5,131.95M315.6,131.95L317.5,130.85" stroke="#1a1a1a" stroke-width="0.75"/>
<circle cx="316.55" cy="131.4" r="0.57" fill="#1a1a1a"/>
<path d="M319.45,130.31V132.49M318.5,130.85L320.4,131.95M318.5,131.95L320.4,130.85" stroke="#1a1a1a" stroke-width="0.75"/>
<circle cx="319.45" cy="131.4" r="0.57" fill="#1a1a1a"/>
<path d="M308.9,136.71V138.89M307.95,137.25L309.85,138.35M307.95,138.35L309.85,137.25" stroke="#1a1a1a" stroke-width="0.75"/>
<circle cx="308.9" cy="137.8" r="0.57" fill="#1a1a1a"/>
<path d="M300.75,143.21V145.39M299.8,143.75L301.7,144.85M299.8,144.85L301.7,143.75" stroke="#1a1a1a" stroke-width="0.75"/>
<circle cx="300.75" cy="144.3" r="0.57" fill="#1a1a1a"/>
<path d="M303.65,143.21V145.39M302.7,143.75L304.6,144.85M302.7,144.85L304.6,143.75" stroke="#1a1a1a" stroke-width="0.75"/>
<circle cx="303.65" cy="144.3" r="0.57" fill="#1a1a1a"/>
<path d="M433.7,130.11V132.29M432.75,130.65L434.65,131.75M432.75,131.75L434.65,130.65" stroke="#1a1a1a" stroke-width="0.75"/>
<circle cx="433.7" cy="131.2" r="0.57" fill="#1a1a1a"/>
<line x1="232.55" y1="150.5" x2="241.05" y2="150.5" stroke="#c8203c" stroke-width="1.4" stroke-linecap="butt"/>
<line x1="236.8" y1="149.5" x2="236.8" y2="151.5" stroke="#c8203c" stroke-width="1.1" stroke-linecap="butt"/>
<line x1="235.3" y1="149.5" x2="238.3" y2="149.5" stroke="#c8203c" stroke-width="1.1" stroke-linecap="butt"/>
<line x1="235.3" y1="151.5" x2="238.3" y2="151.5" stroke="#c8203c" stroke-width="1.1" stroke-linecap="butt"/>
<path d="M232.06,148.11H235.54L233.8,151.41Z" fill="#c8203c"/>
<path d="M234.06,149.61H237.54L235.8,152.91Z" fill="#c8203c"/>
<path d="M236.56,148.61H240.04L238.3,151.91Z" fill="#c8203c"/>
<path d="M238.56,150.11H242.04L240.3,153.41Z" fill="#c8203c"/>
<path d="M235.06,147.61H238.54L236.8,150.91Z" fill="#c8203c"/>
<line x1="245.8" y1="153.6" x2="253.8" y2="153.6" stroke="#15508c" stroke-width="1.4" stroke-linecap="butt"/>
<rect x="245.36" y="148.66" width="3.67" height="3.67" fill="#15508c"/>
<rect x="250.56" y="148.66" width="3.67" height="3.67" fill="#15508c"/>
<rect x="245.36" y="151.66" width="3.67" height="3.67" fill="#15508c"/>
<rect x="250.56" y="151.66" width="3.67" height="3.67" fill="#15508c"/>
<rect x="245.36" y="154.76" width="3.67" height="3.67" fill="#15508c"/>
<rect x="250.56" y="154.76" width="3.67" height="3.67" fill="#15508c"/>
<line x1="258.55" y1="152" x2="267.05" y2="152" stroke="#33b24a" stroke-width="1.4" stroke-linecap="butt"/>
<line x1="262.8" y1="150" x2="262.8" y2="154" stroke="#33b24a" stroke-width="1.1" stroke-linecap="butt"/>
<line x1="261.3" y1="150" x2="264.3" y2="150" stroke="#33b24a" stroke-width="1.1" stroke-linecap="butt"/>
<line x1="261.3" y1="154" x2="264.3" y2="154" stroke="#33b24a" stroke-width="1.1" stroke-linecap="butt"/>
<circle cx="259.8" cy="150" r="1.66" fill="#33b24a"/>
<circle cx="262.8" cy="150.5" r="1.66" fill="#33b24a"/>
<circle cx="265.8" cy="150" r="1.66" fill="#33b24a"/>
<circle cx="263.8" cy="154" r="1.66" fill="#33b24a"/>
<circle cx="262.8" cy="156.5" r="1.66" fill="#33b24a"/>
<line x1="271.3" y1="154" x2="280.3" y2="154" stroke="#f7941d" stroke-width="1.4" stroke-linecap="butt"/>
<line x1="275.8" y1="153" x2="275.8" y2="155" stroke="#f7941d" stroke-width="1.1" stroke-linecap="butt"/>
<line x1="274.3" y1="153" x2="277.3" y2="153" stroke="#f7941d" stroke-width="1.1" stroke-linecap="butt"/>
<line x1="274.3" y1="155" x2="277.3" y2="155" stroke="#f7941d" stroke-width="1.1" stroke-linecap="butt"/>
<path d="M271.56,153.39H275.04L273.3,150.09Z" fill="#f7941d"/>
<path d="M276.56,155.89H280.04L278.3,152.59Z" fill="#f7941d"/>
<path d="M273.06,155.89H276.54L274.8,152.59Z" fill="#f7941d"/>
<path d="M274.56,154.39H278.04L276.3,151.09Z" fill="#f7941d"/>
<line x1="292.5" y1="157.3" x2="300.5" y2="157.3" stroke="#c8203c" stroke-width="1.4" stroke-linecap="butt"/>
<line x1="296.5" y1="156" x2="296.5" y2="158.5" stroke="#c8203c" stroke-width="1.1" stroke-linecap="butt"/>
<line x1="295" y1="156" x2="298" y2="156" stroke="#c8203c" stroke-width="1.1" stroke-linecap="butt"/>
<line x1="295" y1="158.5" x2="298" y2="158.5" stroke="#c8203c" stroke-width="1.1" stroke-linecap="butt"/>
<path d="M291.64,154.01H295.36L293.5,157.55Z" fill="#c8203c"/>
<path d="M294.64,155.51H298.36L296.5,159.05Z" fill="#c8203c"/>
<path d="M297.64,154.51H301.36L299.5,158.05Z" fill="#c8203c"/>
<path d="M292.64,157.51H296.36L294.5,161.05Z" fill="#c8203c"/>
<path d="M296.64,157.01H300.36L298.5,160.55Z" fill="#c8203c"/>
<path d="M294.64,158.51H298.36L296.5,162.05Z" fill="#c8203c"/>
<line x1="304.75" y1="171.5" x2="314.25" y2="171.5" stroke="#15508c" stroke-width="1.4" stroke-linecap="butt"/>
<line x1="309.5" y1="167.6" x2="309.5" y2="175.2" stroke="#15508c" stroke-width="1.1" stroke-linecap="butt"/>
<line x1="307.3" y1="167.6" x2="311.7" y2="167.6" stroke="#15508c" stroke-width="1.1" stroke-linecap="butt"/>
<line x1="307.3" y1="175.2" x2="311.7" y2="175.2" stroke="#15508c" stroke-width="1.1" stroke-linecap="butt"/>
<rect x="307.77" y="154.17" width="3.46" height="3.46" fill="#15508c"/>
<rect x="307.77" y="166.27" width="3.46" height="3.46" fill="#15508c"/>
<rect x="307.77" y="169.77" width="3.46" height="3.46" fill="#15508c"/>
<rect x="307.77" y="175.97" width="3.46" height="3.46" fill="#15508c"/>
<rect x="307.77" y="181.77" width="3.46" height="3.46" fill="#15508c"/>
<line x1="318.25" y1="170" x2="326.75" y2="170" stroke="#33b24a" stroke-width="1.4" stroke-linecap="butt"/>
<line x1="322.5" y1="168" x2="322.5" y2="172.5" stroke="#33b24a" stroke-width="1.1" stroke-linecap="butt"/>
<line x1="321" y1="168" x2="324" y2="168" stroke="#33b24a" stroke-width="1.1" stroke-linecap="butt"/>
<line x1="321" y1="172.5" x2="324" y2="172.5" stroke="#33b24a" stroke-width="1.1" stroke-linecap="butt"/>
<circle cx="319.5" cy="167" r="1.66" fill="#33b24a"/>
<circle cx="322.5" cy="166" r="1.66" fill="#33b24a"/>
<circle cx="325.5" cy="167" r="1.66" fill="#33b24a"/>
<circle cx="321" cy="170.5" r="1.66" fill="#33b24a"/>
<circle cx="324" cy="171" r="1.66" fill="#33b24a"/>
<circle cx="322.5" cy="174" r="1.66" fill="#33b24a"/>
<line x1="331" y1="189.8" x2="340" y2="189.8" stroke="#f7941d" stroke-width="1.4" stroke-linecap="butt"/>
<line x1="335.5" y1="185" x2="335.5" y2="194.6" stroke="#f7941d" stroke-width="1.1" stroke-linecap="butt"/>
<line x1="333.3" y1="185" x2="337.7" y2="185" stroke="#f7941d" stroke-width="1.1" stroke-linecap="butt"/>
<line x1="333.3" y1="194.6" x2="337.7" y2="194.6" stroke="#f7941d" stroke-width="1.1" stroke-linecap="butt"/>
<path d="M333.64,175.89H337.36L335.5,172.35Z" fill="#f7941d"/>
<path d="M333.64,186.49H337.36L335.5,182.95Z" fill="#f7941d"/>
<path d="M331.64,191.49H335.36L333.5,187.95Z" fill="#f7941d"/>
<path d="M335.64,193.49H339.36L337.5,189.95Z" fill="#f7941d"/>
<path d="M333.64,200.89H337.36L335.5,197.35Z" fill="#f7941d"/>
<line x1="351.3" y1="196.9" x2="361.3" y2="196.9" stroke="#c8203c" stroke-width="1.4" stroke-linecap="butt"/>
<line x1="356.3" y1="190.4" x2="356.3" y2="201.3" stroke="#c8203c" stroke-width="1.1" stroke-linecap="butt"/>
<line x1="353.8" y1="190.4" x2="358.8" y2="190.4" stroke="#c8203c" stroke-width="1.1" stroke-linecap="butt"/>
<line x1="353.8" y1="201.3" x2="358.8" y2="201.3" stroke="#c8203c" stroke-width="1.1" stroke-linecap="butt"/>
<path d="M354.31,181.11H358.29L356.3,184.89Z" fill="#c8203c"/>
<path d="M354.31,191.41H358.29L356.3,195.19Z" fill="#c8203c"/>
<path d="M351.31,204.61H355.29L353.3,208.39Z" fill="#c8203c"/>
<path d="M357.31,204.61H361.29L359.3,208.39Z" fill="#c8203c"/>
<path d="M354.31,197.41H358.29L356.3,201.19Z" fill="#c8203c"/>
<line x1="364.8" y1="209" x2="373.8" y2="209" stroke="#15508c" stroke-width="1.4" stroke-linecap="butt"/>
<line x1="369.3" y1="207.5" x2="369.3" y2="210.5" stroke="#15508c" stroke-width="1.1" stroke-linecap="butt"/>
<line x1="367.8" y1="207.5" x2="370.8" y2="207.5" stroke="#15508c" stroke-width="1.1" stroke-linecap="butt"/>
<line x1="367.8" y1="210.5" x2="370.8" y2="210.5" stroke="#15508c" stroke-width="1.1" stroke-linecap="butt"/>
<rect x="367.57" y="199.57" width="3.46" height="3.46" fill="#15508c"/>
<rect x="364.57" y="206.77" width="3.46" height="3.46" fill="#15508c"/>
<rect x="367.57" y="207.77" width="3.46" height="3.46" fill="#15508c"/>
<rect x="370.57" y="206.27" width="3.46" height="3.46" fill="#15508c"/>
<rect x="366.07" y="209.27" width="3.46" height="3.46" fill="#15508c"/>
<rect x="369.07" y="208.27" width="3.46" height="3.46" fill="#15508c"/>
<line x1="377.8" y1="191.7" x2="386.8" y2="191.7" stroke="#33b24a" stroke-width="1.4" stroke-linecap="butt"/>
<line x1="382.3" y1="188.8" x2="382.3" y2="196.9" stroke="#33b24a" stroke-width="1.1" stroke-linecap="butt"/>
<line x1="379.8" y1="188.8" x2="384.8" y2="188.8" stroke="#33b24a" stroke-width="1.1" stroke-linecap="butt"/>
<line x1="379.8" y1="196.9" x2="384.8" y2="196.9" stroke="#33b24a" stroke-width="1.1" stroke-linecap="butt"/>
<circle cx="378.3" cy="184.6" r="1.78" fill="#33b24a"/>
<circle cx="386.3" cy="184.6" r="1.78" fill="#33b24a"/>
<circle cx="379.3" cy="193" r="1.78" fill="#33b24a"/>
<circle cx="385.3" cy="193" r="1.78" fill="#33b24a"/>
<circle cx="382.3" cy="209.6" r="1.78" fill="#33b24a"/>
<line x1="390.3" y1="201.9" x2="400.3" y2="201.9" stroke="#f7941d" stroke-width="1.4" stroke-linecap="butt"/>
<line x1="395.3" y1="196.5" x2="395.3" y2="207.1" stroke="#f7941d" stroke-width="1.1" stroke-linecap="butt"/>
<line x1="392.8" y1="196.5" x2="397.8" y2="196.5" stroke="#f7941d" stroke-width="1.1" stroke-linecap="butt"/>
<line x1="392.8" y1="207.1" x2="397.8" y2="207.1" stroke="#f7941d" stroke-width="1.1" stroke-linecap="butt"/>
<path d="M393.44,185.49H397.16L395.3,181.95Z" fill="#f7941d"/>
<path d="M393.44,202.49H397.16L395.3,198.95Z" fill="#f7941d"/>
<path d="M393.44,212.99H397.16L395.3,209.45Z" fill="#f7941d"/>
<path d="M393.44,218.79H397.16L395.3,215.25Z" fill="#f7941d"/>
<path d="M395.44,199.49H399.16L397.3,195.95Z" fill="#f7941d"/>
<line x1="411.9" y1="192.5" x2="419.9" y2="192.5" stroke="#c8203c" stroke-width="1.4" stroke-linecap="butt"/>
<line x1="415.9" y1="188.5" x2="415.9" y2="195.6" stroke="#c8203c" stroke-width="1.1" stroke-linecap="butt"/>
<line x1="413.9" y1="188.5" x2="417.9" y2="188.5" stroke="#c8203c" stroke-width="1.1" stroke-linecap="butt"/>
<line x1="413.9" y1="195.6" x2="417.9" y2="195.6" stroke="#c8203c" stroke-width="1.1" stroke-linecap="butt"/>
<path d="M411.79,187.71H415.01L413.4,190.78Z" fill="#c8203c"/>
<path d="M416.79,187.71H420.01L418.4,190.78Z" fill="#c8203c"/>
<path d="M412.29,193.71H415.51L413.9,196.78Z" fill="#c8203c"/>
<path d="M416.29,193.71H419.51L417.9,196.78Z" fill="#c8203c"/>
<path d="M414.29,201.46H417.51L415.9,204.53Z" fill="#c8203c"/>
<line x1="424.4" y1="196" x2="433.4" y2="196" stroke="#15508c" stroke-width="1.4" stroke-linecap="butt"/>
<line x1="428.9" y1="192.5" x2="428.9" y2="198.8" stroke="#15508c" stroke-width="1.1" stroke-linecap="butt"/>
<line x1="426.9" y1="192.5" x2="430.9" y2="192.5" stroke="#15508c" stroke-width="1.1" stroke-linecap="butt"/>
<line x1="426.9" y1="198.8" x2="430.9" y2="198.8" stroke="#15508c" stroke-width="1.1" stroke-linecap="butt"/>
<rect x="424.28" y="186.88" width="3.24" height="3.24" fill="#15508c"/>
<rect x="430.28" y="187.78" width="3.24" height="3.24" fill="#15508c"/>
<rect x="424.28" y="201.48" width="3.24" height="3.24" fill="#15508c"/>
<rect x="430.28" y="200.58" width="3.24" height="3.24" fill="#15508c"/>
<rect x="427.28" y="193.38" width="3.24" height="3.24" fill="#15508c"/>
<line x1="437.65" y1="200.6" x2="446.15" y2="200.6" stroke="#33b24a" stroke-width="1.4" stroke-linecap="butt"/>
<line x1="441.9" y1="197.5" x2="441.9" y2="204" stroke="#33b24a" stroke-width="1.1" stroke-linecap="butt"/>
<line x1="439.9" y1="197.5" x2="443.9" y2="197.5" stroke="#33b24a" stroke-width="1.1" stroke-linecap="butt"/>
<line x1="439.9" y1="204" x2="443.9" y2="204" stroke="#33b24a" stroke-width="1.1" stroke-linecap="butt"/>
<circle cx="438.9" cy="196" r="1.66" fill="#33b24a"/>
<circle cx="444.9" cy="196" r="1.66" fill="#33b24a"/>
<circle cx="439.9" cy="201" r="1.66" fill="#33b24a"/>
<circle cx="443.9" cy="201" r="1.66" fill="#33b24a"/>
<circle cx="441.9" cy="209" r="1.66" fill="#33b24a"/>
<line x1="450.9" y1="205.6" x2="458.9" y2="205.6" stroke="#f7941d" stroke-width="1.4" stroke-linecap="butt"/>
<line x1="454.9" y1="202.5" x2="454.9" y2="208" stroke="#f7941d" stroke-width="1.1" stroke-linecap="butt"/>
<line x1="452.9" y1="202.5" x2="456.9" y2="202.5" stroke="#f7941d" stroke-width="1.1" stroke-linecap="butt"/>
<line x1="452.9" y1="208" x2="456.9" y2="208" stroke="#f7941d" stroke-width="1.1" stroke-linecap="butt"/>
<path d="M451.16,203.39H454.64L452.9,200.09Z" fill="#f7941d"/>
<path d="M455.16,203.39H458.64L456.9,200.09Z" fill="#f7941d"/>
<path d="M450.66,209.89H454.14L452.4,206.59Z" fill="#f7941d"/>
<path d="M455.66,209.89H459.14L457.4,206.59Z" fill="#f7941d"/>
<path d="M453.16,202.89H456.64L454.9,199.59Z" fill="#f7941d"/>
<text x="14.7" y="312.2" font-size="11.3" text-anchor="start" font-weight="bold" fill="#000" stroke="#000" stroke-width="0.35">F</text>
<line x1="46.2" y1="317.5" x2="46.2" y2="402.6" stroke="#2a2a2a" stroke-width="1.8" stroke-linecap="butt"/>
<line x1="43.4" y1="401.7" x2="46.2" y2="401.7" stroke="#1c1c1c" stroke-width="1" stroke-linecap="butt"/>
<text x="41.5" y="404.5" font-size="7.8" text-anchor="end" font-weight="normal" fill="#1a1a1a" stroke="#1a1a1a" stroke-width="0.12">0</text>
<line x1="43.4" y1="384.88" x2="46.2" y2="384.88" stroke="#1c1c1c" stroke-width="1" stroke-linecap="butt"/>
<text x="41.5" y="387.68" font-size="7.8" text-anchor="end" font-weight="normal" fill="#1a1a1a" stroke="#1a1a1a" stroke-width="0.12">20</text>
<line x1="43.4" y1="368.06" x2="46.2" y2="368.06" stroke="#1c1c1c" stroke-width="1" stroke-linecap="butt"/>
<text x="41.5" y="370.86" font-size="7.8" text-anchor="end" font-weight="normal" fill="#1a1a1a" stroke="#1a1a1a" stroke-width="0.12">40</text>
<line x1="43.4" y1="351.24" x2="46.2" y2="351.24" stroke="#1c1c1c" stroke-width="1" stroke-linecap="butt"/>
<text x="41.5" y="354.04" font-size="7.8" text-anchor="end" font-weight="normal" fill="#1a1a1a" stroke="#1a1a1a" stroke-width="0.12">60</text>
<line x1="43.4" y1="334.42" x2="46.2" y2="334.42" stroke="#1c1c1c" stroke-width="1" stroke-linecap="butt"/>
<text x="41.5" y="337.22" font-size="7.8" text-anchor="end" font-weight="normal" fill="#1a1a1a" stroke="#1a1a1a" stroke-width="0.12">80</text>
<line x1="43.4" y1="317.6" x2="46.2" y2="317.6" stroke="#1c1c1c" stroke-width="1" stroke-linecap="butt"/>
<text x="41.5" y="320.4" font-size="7.8" text-anchor="end" font-weight="normal" fill="#1a1a1a" stroke="#1a1a1a" stroke-width="0.12">100</text>
<text x="23.6" y="359.3" font-size="7.9" text-anchor="middle" font-weight="normal" fill="#111" stroke="#111" stroke-width="0.3" transform="rotate(-90 23.6 359.3)" textLength="85.5" lengthAdjust="spacingAndGlyphs">% Ki67<tspan font-size="5.5" dy="-2.6">+</tspan><tspan dy="2.6"> (from CD5</tspan><tspan font-size="5.5" dy="-2.6">+</tspan><tspan dy="2.6"> CD19</tspan><tspan font-size="5.5" dy="-2.6">+</tspan><tspan dy="2.6">)</tspan></text>
<line x1="45.3" y1="401.7" x2="283.7" y2="401.7" stroke="#2a2a2a" stroke-width="1.8" stroke-linecap="butt"/>
<line x1="76.1" y1="401.7" x2="76.1" y2="404.2" stroke="#1c1c1c" stroke-width="1" stroke-linecap="butt"/>
<text x="76.1" y="412.5" font-size="7.6" text-anchor="middle" font-weight="normal" fill="#1a1a1a" stroke="#1a1a1a" stroke-width="0.12" textLength="9.8" lengthAdjust="spacingAndGlyphs">PB</text>
<line x1="134.9" y1="401.7" x2="134.9" y2="404.2" stroke="#1c1c1c" stroke-width="1" stroke-linecap="butt"/>
<text x="134.9" y="412.5" font-size="7.6" text-anchor="middle" font-weight="normal" fill="#1a1a1a" stroke="#1a1a1a" stroke-width="0.12" textLength="23.6" lengthAdjust="spacingAndGlyphs">Spleen</text>
<line x1="194.3" y1="401.7" x2="194.3" y2="404.2" stroke="#1c1c1c" stroke-width="1" stroke-linecap="butt"/>
<text x="194.3" y="412.5" font-size="7.6" text-anchor="middle" font-weight="normal" fill="#1a1a1a" stroke="#1a1a1a" stroke-width="0.12" textLength="9.2" lengthAdjust="spacingAndGlyphs">LN</text>
<line x1="253.3" y1="401.7" x2="253.3" y2="404.2" stroke="#1c1c1c" stroke-width="1" stroke-linecap="butt"/>
<text x="254.5" y="412.5" font-size="7.6" text-anchor="middle" font-weight="normal" fill="#1a1a1a" stroke="#1a1a1a" stroke-width="0.12" textLength="11.4" lengthAdjust="spacingAndGlyphs">BM</text>
<line x1="56.8" y1="316.4" x2="95.1" y2="316.4" stroke="#333" stroke-width="1.2" stroke-linecap="butt"/>
<line x1="56.8" y1="324.2" x2="69.6" y2="324.2" stroke="#444" stroke-width="1.2" stroke-linecap="butt"/>
<line x1="115.6" y1="316.4" x2="153.9" y2="316.4" stroke="#333" stroke-width="1.2" stroke-linecap="butt"/>
<line x1="115.6" y1="324.2" x2="128.4" y2="324.2" stroke="#444" stroke-width="1.2" stroke-linecap="butt"/>
<line x1="175" y1="316.4" x2="213.3" y2="316.4" stroke="#333" stroke-width="1.2" stroke-linecap="butt"/>
<line x1="175" y1="324.2" x2="187.8" y2="324.2" stroke="#444" stroke-width="1.2" stroke-linecap="butt"/>
<line x1="234" y1="316.4" x2="272.3" y2="316.4" stroke="#333" stroke-width="1.2" stroke-linecap="butt"/>
<line x1="234" y1="324.2" x2="246.8" y2="324.2" stroke="#444" stroke-width="1.2" stroke-linecap="butt"/>
<path d="M74.6,312.61V314.79M73.65,313.15L75.55,314.25M73.65,314.25L75.55,313.15" stroke="#1a1a1a" stroke-width="0.75"/>
<circle cx="74.6" cy="313.7" r="0.57" fill="#1a1a1a"/>
<path d="M77.6,312.61V314.79M76.65,313.15L78.55,314.25M76.65,314.25L78.55,313.15" stroke="#1a1a1a" stroke-width="0.75"/>
<circle cx="77.6" cy="313.7" r="0.57" fill="#1a1a1a"/>
<path d="M135.2,312.61V314.79M134.25,313.15L136.15,314.25M134.25,314.25L136.15,313.15" stroke="#1a1a1a" stroke-width="0.75"/>
<circle cx="135.2" cy="313.7" r="0.57" fill="#1a1a1a"/>
<path d="M189.9,312.61V314.79M188.95,313.15L190.85,314.25M188.95,314.25L190.85,313.15" stroke="#1a1a1a" stroke-width="0.75"/>
<circle cx="189.9" cy="313.7" r="0.57" fill="#1a1a1a"/>
<path d="M192.9,312.61V314.79M191.95,313.15L193.85,314.25M191.95,314.25L193.85,313.15" stroke="#1a1a1a" stroke-width="0.75"/>
<circle cx="192.9" cy="313.7" r="0.57" fill="#1a1a1a"/>
<path d="M195.9,312.61V314.79M194.95,313.15L196.85,314.25M194.95,314.25L196.85,313.15" stroke="#1a1a1a" stroke-width="0.75"/>
<circle cx="195.9" cy="313.7" r="0.57" fill="#1a1a1a"/>
<path d="M198.9,312.61V314.79M197.95,313.15L199.85,314.25M197.95,314.25L199.85,313.15" stroke="#1a1a1a" stroke-width="0.75"/>
<circle cx="198.9" cy="313.7" r="0.57" fill="#1a1a1a"/>
<path d="M253.6,312.61V314.79M252.65,313.15L254.55,314.25M252.65,314.25L254.55,313.15" stroke="#1a1a1a" stroke-width="0.75"/>
<circle cx="253.6" cy="313.7" r="0.57" fill="#1a1a1a"/>
<path d="M58.85,320.11V322.29M57.9,320.65L59.8,321.75M57.9,321.75L59.8,320.65" stroke="#1a1a1a" stroke-width="0.75"/>
<circle cx="58.85" cy="321.2" r="0.57" fill="#1a1a1a"/>
<path d="M61.75,320.11V322.29M60.8,320.65L62.7,321.75M60.8,321.75L62.7,320.65" stroke="#1a1a1a" stroke-width="0.75"/>
<circle cx="61.75" cy="321.2" r="0.57" fill="#1a1a1a"/>
<path d="M64.65,320.11V322.29M63.7,320.65L65.6,321.75M63.7,321.75L65.6,320.65" stroke="#1a1a1a" stroke-width="0.75"/>
<circle cx="64.65" cy="321.2" r="0.57" fill="#1a1a1a"/>
<path d="M67.55,320.11V322.29M66.6,320.65L68.5,321.75M66.6,321.75L68.5,320.65" stroke="#1a1a1a" stroke-width="0.75"/>
<circle cx="67.55" cy="321.2" r="0.57" fill="#1a1a1a"/>
<path d="M117.65,320.11V322.29M116.7,320.65L118.6,321.75M116.7,321.75L118.6,320.65" stroke="#1a1a1a" stroke-width="0.75"/>
<circle cx="117.65" cy="321.2" r="0.57" fill="#1a1a1a"/>
<path d="M120.55,320.11V322.29M119.6,320.65L121.5,321.75M119.6,321.75L121.5,320.65" stroke="#1a1a1a" stroke-width="0.75"/>
<circle cx="120.55" cy="321.2" r="0.57" fill="#1a1a1a"/>
<path d="M123.45,320.11V322.29M122.5,320.65L124.4,321.75M122.5,321.75L124.4,320.65" stroke="#1a1a1a" stroke-width="0.75"/>
<circle cx="123.45" cy="321.2" r="0.57" fill="#1a1a1a"/>
<path d="M126.35,320.11V322.29M125.4,320.65L127.3,321.75M125.4,321.75L127.3,320.65" stroke="#1a1a1a" stroke-width="0.75"/>
<circle cx="126.35" cy="321.2" r="0.57" fill="#1a1a1a"/>
<line x1="175" y1="324.2" x2="187.8" y2="324.2" stroke="#666" stroke-width="2" stroke-linecap="butt"/>
<path d="M236.05,320.11V322.29M235.1,320.65L237,321.75M235.1,321.75L237,320.65" stroke="#1a1a1a" stroke-width="0.75"/>
<circle cx="236.05" cy="321.2" r="0.57" fill="#1a1a1a"/>
<path d="M238.95,320.11V322.29M238,320.65L239.9,321.75M238,321.75L239.9,320.65" stroke="#1a1a1a" stroke-width="0.75"/>
<circle cx="238.95" cy="321.2" r="0.57" fill="#1a1a1a"/>
<path d="M241.85,320.11V322.29M240.9,320.65L242.8,321.75M240.9,321.75L242.8,320.65" stroke="#1a1a1a" stroke-width="0.75"/>
<circle cx="241.85" cy="321.2" r="0.57" fill="#1a1a1a"/>
<path d="M244.75,320.11V322.29M243.8,320.65L245.7,321.75M243.8,321.75L245.7,320.65" stroke="#1a1a1a" stroke-width="0.75"/>
<circle cx="244.75" cy="321.2" r="0.57" fill="#1a1a1a"/>
<line x1="52.3" y1="344.4" x2="61.3" y2="344.4" stroke="#c8203c" stroke-width="1.4" stroke-linecap="butt"/>
<line x1="56.8" y1="341.7" x2="56.8" y2="347.3" stroke="#c8203c" stroke-width="1.1" stroke-linecap="butt"/>
<line x1="54.8" y1="341.7" x2="58.8" y2="341.7" stroke="#c8203c" stroke-width="1.1" stroke-linecap="butt"/>
<line x1="54.8" y1="347.3" x2="58.8" y2="347.3" stroke="#c8203c" stroke-width="1.1" stroke-linecap="butt"/>
<path d="M55.06,336.41H58.54L56.8,339.71Z" fill="#c8203c"/>
<path d="M52.46,348.91H55.94L54.2,352.21Z" fill="#c8203c"/>
<path d="M57.06,342.61H60.54L58.8,345.91Z" fill="#c8203c"/>
<path d="M54.06,344.61H57.54L55.8,347.91Z" fill="#c8203c"/>
<path d="M56.56,340.61H60.04L58.3,343.91Z" fill="#c8203c"/>
<line x1="65.1" y1="369.8" x2="74.1" y2="369.8" stroke="#15508c" stroke-width="1.4" stroke-linecap="butt"/>
<line x1="69.6" y1="367.4" x2="69.6" y2="372.5" stroke="#15508c" stroke-width="1.1" stroke-linecap="butt"/>
<line x1="67.4" y1="367.4" x2="71.8" y2="367.4" stroke="#15508c" stroke-width="1.1" stroke-linecap="butt"/>
<line x1="67.4" y1="372.5" x2="71.8" y2="372.5" stroke="#15508c" stroke-width="1.1" stroke-linecap="butt"/>
<rect x="67.87" y="357.17" width="3.46" height="3.46" fill="#15508c"/>
<rect x="67.87" y="360.57" width="3.46" height="3.46" fill="#15508c"/>
<rect x="67.87" y="363.77" width="3.46" height="3.46" fill="#15508c"/>
<rect x="65.07" y="373.77" width="3.46" height="3.46" fill="#15508c"/>
<rect x="71.27" y="373.77" width="3.46" height="3.46" fill="#15508c"/>
<rect x="67.87" y="370.27" width="3.46" height="3.46" fill="#15508c"/>
<line x1="78" y1="349" x2="87" y2="349" stroke="#33b24a" stroke-width="1.4" stroke-linecap="butt"/>
<line x1="82.5" y1="347.5" x2="82.5" y2="350.5" stroke="#33b24a" stroke-width="1.1" stroke-linecap="butt"/>
<line x1="81" y1="347.5" x2="84" y2="347.5" stroke="#33b24a" stroke-width="1.1" stroke-linecap="butt"/>
<line x1="81" y1="350.5" x2="84" y2="350.5" stroke="#33b24a" stroke-width="1.1" stroke-linecap="butt"/>
<circle cx="80" cy="347.5" r="1.78" fill="#33b24a"/>
<circle cx="82.5" cy="347" r="1.78" fill="#33b24a"/>
<circle cx="85" cy="347.5" r="1.78" fill="#33b24a"/>
<circle cx="81" cy="350" r="1.78" fill="#33b24a"/>
<circle cx="84" cy="350" r="1.78" fill="#33b24a"/>
<circle cx="82.5" cy="355.5" r="1.78" fill="#33b24a"/>
<line x1="90.6" y1="357.9" x2="99.6" y2="357.9" stroke="#f7941d" stroke-width="1.4" stroke-linecap="butt"/>
<line x1="95.1" y1="353.2" x2="95.1" y2="362.3" stroke="#f7941d" stroke-width="1.1" stroke-linecap="butt"/>
<line x1="92.9" y1="353.2" x2="97.3" y2="353.2" stroke="#f7941d" stroke-width="1.1" stroke-linecap="butt"/>
<line x1="92.9" y1="362.3" x2="97.3" y2="362.3" stroke="#f7941d" stroke-width="1.1" stroke-linecap="butt"/>
<path d="M96.04,350.49H99.76L97.9,346.95Z" fill="#f7941d"/>
<path d="M90.44,354.69H94.16L92.3,351.15Z" fill="#f7941d"/>
<path d="M95.74,365.09H99.46L97.6,361.55Z" fill="#f7941d"/>
<path d="M90.44,367.89H94.16L92.3,364.35Z" fill="#f7941d"/>
<path d="M93.24,358.49H96.96L95.1,354.95Z" fill="#f7941d"/>
<line x1="111.1" y1="334.9" x2="120.1" y2="334.9" stroke="#c8203c" stroke-width="1.4" stroke-linecap="butt"/>
<line x1="115.6" y1="333.5" x2="115.6" y2="336.5" stroke="#c8203c" stroke-width="1.1" stroke-linecap="butt"/>
<line x1="114.1" y1="333.5" x2="117.1" y2="333.5" stroke="#c8203c" stroke-width="1.1" stroke-linecap="butt"/>
<line x1="114.1" y1="336.5" x2="117.1" y2="336.5" stroke="#c8203c" stroke-width="1.1" stroke-linecap="butt"/>
<path d="M113.86,329.21H117.34L115.6,332.51Z" fill="#c8203c"/>
<path d="M111.36,332.61H114.84L113.1,335.91Z" fill="#c8203c"/>
<path d="M116.36,333.61H119.84L118.1,336.91Z" fill="#c8203c"/>
<path d="M111.86,335.11H115.34L113.6,338.41Z" fill="#c8203c"/>
<path d="M114.86,334.11H118.34L116.6,337.41Z" fill="#c8203c"/>
<line x1="123.9" y1="358.1" x2="132.9" y2="358.1" stroke="#15508c" stroke-width="1.4" stroke-linecap="butt"/>
<line x1="128.4" y1="355.5" x2="128.4" y2="361" stroke="#15508c" stroke-width="1.1" stroke-linecap="butt"/>
<line x1="126.4" y1="355.5" x2="130.4" y2="355.5" stroke="#15508c" stroke-width="1.1" stroke-linecap="butt"/>
<line x1="126.4" y1="361" x2="130.4" y2="361" stroke="#15508c" stroke-width="1.1" stroke-linecap="butt"/>
<rect x="126.67" y="349.47" width="3.46" height="3.46" fill="#15508c"/>
<rect x="126.67" y="354.27" width="3.46" height="3.46" fill="#15508c"/>
<rect x="124.67" y="358.27" width="3.46" height="3.46" fill="#15508c"/>
<rect x="128.67" y="356.27" width="3.46" height="3.46" fill="#15508c"/>
<rect x="125.17" y="361.27" width="3.46" height="3.46" fill="#15508c"/>
<rect x="126.67" y="359.27" width="3.46" height="3.46" fill="#15508c"/>
<line x1="136.8" y1="336" x2="145.8" y2="336" stroke="#33b24a" stroke-width="1.4" stroke-linecap="butt"/>
<line x1="141.3" y1="334" x2="141.3" y2="338" stroke="#33b24a" stroke-width="1.1" stroke-linecap="butt"/>
<line x1="139.8" y1="334" x2="142.8" y2="334" stroke="#33b24a" stroke-width="1.1" stroke-linecap="butt"/>
<line x1="139.8" y1="338" x2="142.8" y2="338" stroke="#33b24a" stroke-width="1.1" stroke-linecap="butt"/>
<circle cx="138.7" cy="332.6" r="1.78" fill="#33b24a"/>
<circle cx="144.6" cy="333.2" r="1.78" fill="#33b24a"/>
<circle cx="138.7" cy="335.8" r="1.78" fill="#33b24a"/>
<circle cx="144.6" cy="337.8" r="1.78" fill="#33b24a"/>
<circle cx="138.7" cy="340.7" r="1.78" fill="#33b24a"/>
<line x1="149.4" y1="347.3" x2="158.4" y2="347.3" stroke="#f7941d" stroke-width="1.4" stroke-linecap="butt"/>
<line x1="153.9" y1="343" x2="153.9" y2="350.3" stroke="#f7941d" stroke-width="1.1" stroke-linecap="butt"/>
<line x1="151.6" y1="343" x2="156.2" y2="343" stroke="#f7941d" stroke-width="1.1" stroke-linecap="butt"/>
<line x1="151.6" y1="350.3" x2="156.2" y2="350.3" stroke="#f7941d" stroke-width="1.1" stroke-linecap="butt"/>
<path d="M152.04,339.29H155.76L153.9,335.75Z" fill="#f7941d"/>
<path d="M152.04,344.49H155.76L153.9,340.95Z" fill="#f7941d"/>
<path d="M149.54,351.49H153.26L151.4,347.95Z" fill="#f7941d"/>
<path d="M154.54,352.49H158.26L156.4,348.95Z" fill="#f7941d"/>
<path d="M150.04,356.49H153.76L151.9,352.95Z" fill="#f7941d"/>
<path d="M154.54,354.49H158.26L156.4,350.95Z" fill="#f7941d"/>
<line x1="170.5" y1="338.9" x2="179.5" y2="338.9" stroke="#c8203c" stroke-width="1.4" stroke-linecap="butt"/>
<line x1="175" y1="337" x2="175" y2="341" stroke="#c8203c" stroke-width="1.1" stroke-linecap="butt"/>
<line x1="173" y1="337" x2="177" y2="337" stroke="#c8203c" stroke-width="1.1" stroke-linecap="butt"/>
<line x1="173" y1="341" x2="177" y2="341" stroke="#c8203c" stroke-width="1.1" stroke-linecap="butt"/>
<path d="M171.26,334.41H174.74L173,337.71Z" fill="#c8203c"/>
<path d="M175.26,334.41H178.74L177,337.71Z" fill="#c8203c"/>
<path d="M171.76,338.61H175.24L173.5,341.91Z" fill="#c8203c"/>
<path d="M175.26,339.61H178.74L177,342.91Z" fill="#c8203c"/>
<path d="M173.26,343.61H176.74L175,346.91Z" fill="#c8203c"/>
<line x1="183.3" y1="379.7" x2="192.3" y2="379.7" stroke="#15508c" stroke-width="1.4" stroke-linecap="butt"/>
<line x1="187.8" y1="375.6" x2="187.8" y2="386.3" stroke="#15508c" stroke-width="1.1" stroke-linecap="butt"/>
<line x1="185.6" y1="375.6" x2="190" y2="375.6" stroke="#15508c" stroke-width="1.1" stroke-linecap="butt"/>
<line x1="185.6" y1="386.3" x2="190" y2="386.3" stroke="#15508c" stroke-width="1.1" stroke-linecap="butt"/>
<rect x="186.07" y="362.77" width="3.46" height="3.46" fill="#15508c"/>
<rect x="183.57" y="375.27" width="3.46" height="3.46" fill="#15508c"/>
<rect x="188.57" y="374.27" width="3.46" height="3.46" fill="#15508c"/>
<rect x="186.07" y="378.27" width="3.46" height="3.46" fill="#15508c"/>
<rect x="186.07" y="388.07" width="3.46" height="3.46" fill="#15508c"/>
<rect x="186.07" y="392.17" width="3.46" height="3.46" fill="#15508c"/>
<line x1="196.2" y1="347.3" x2="205.2" y2="347.3" stroke="#33b24a" stroke-width="1.4" stroke-linecap="butt"/>
<line x1="200.7" y1="345" x2="200.7" y2="349.5" stroke="#33b24a" stroke-width="1.1" stroke-linecap="butt"/>
<line x1="198.7" y1="345" x2="202.7" y2="345" stroke="#33b24a" stroke-width="1.1" stroke-linecap="butt"/>
<line x1="198.7" y1="349.5" x2="202.7" y2="349.5" stroke="#33b24a" stroke-width="1.1" stroke-linecap="butt"/>
<circle cx="200.7" cy="339.4" r="1.78" fill="#33b24a"/>
<circle cx="198.7" cy="346" r="1.78" fill="#33b24a"/>
<circle cx="202.7" cy="346" r="1.78" fill="#33b24a"/>
<circle cx="200.7" cy="348.5" r="1.78" fill="#33b24a"/>
<circle cx="200.7" cy="356.4" r="1.78" fill="#33b24a"/>
<line x1="208.8" y1="381.7" x2="217.8" y2="381.7" stroke="#f7941d" stroke-width="1.4" stroke-linecap="butt"/>
<line x1="213.3" y1="379.5" x2="213.3" y2="384" stroke="#f7941d" stroke-width="1.1" stroke-linecap="butt"/>
<line x1="211.3" y1="379.5" x2="215.3" y2="379.5" stroke="#f7941d" stroke-width="1.1" stroke-linecap="butt"/>
<line x1="211.3" y1="384" x2="215.3" y2="384" stroke="#f7941d" stroke-width="1.1" stroke-linecap="butt"/>
<path d="M211.56,374.69H215.04L213.3,371.39Z" fill="#f7941d"/>
<path d="M209.56,382.39H213.04L211.3,379.09Z" fill="#f7941d"/>
<path d="M213.56,382.39H217.04L215.3,379.09Z" fill="#f7941d"/>
<path d="M211.56,384.39H215.04L213.3,381.09Z" fill="#f7941d"/>
<path d="M211.56,388.79H215.04L213.3,385.49Z" fill="#f7941d"/>
<line x1="229.5" y1="359.1" x2="238.5" y2="359.1" stroke="#c8203c" stroke-width="1.4" stroke-linecap="butt"/>
<line x1="234" y1="356.5" x2="234" y2="361.5" stroke="#c8203c" stroke-width="1.1" stroke-linecap="butt"/>
<line x1="232" y1="356.5" x2="236" y2="356.5" stroke="#c8203c" stroke-width="1.1" stroke-linecap="butt"/>
<line x1="232" y1="361.5" x2="236" y2="361.5" stroke="#c8203c" stroke-width="1.1" stroke-linecap="butt"/>
<path d="M232.26,351.01H235.74L234,354.31Z" fill="#c8203c"/>
<path d="M234.76,355.61H238.24L236.5,358.91Z" fill="#c8203c"/>
<path d="M230.26,358.61H233.74L232,361.91Z" fill="#c8203c"/>
<path d="M233.26,356.61H236.74L235,359.91Z" fill="#c8203c"/>
<path d="M228.76,362.21H232.24L230.5,365.51Z" fill="#c8203c"/>
<line x1="242.3" y1="383" x2="251.3" y2="383" stroke="#15508c" stroke-width="1.4" stroke-linecap="butt"/>
<line x1="246.8" y1="381" x2="246.8" y2="385.5" stroke="#15508c" stroke-width="1.1" stroke-linecap="butt"/>
<line x1="244.8" y1="381" x2="248.8" y2="381" stroke="#15508c" stroke-width="1.1" stroke-linecap="butt"/>
<line x1="244.8" y1="385.5" x2="248.8" y2="385.5" stroke="#15508c" stroke-width="1.1" stroke-linecap="butt"/>
<rect x="245.07" y="375.07" width="3.46" height="3.46" fill="#15508c"/>
<rect x="243.07" y="379.27" width="3.46" height="3.46" fill="#15508c"/>
<rect x="247.07" y="381.27" width="3.46" height="3.46" fill="#15508c"/>
<rect x="245.07" y="383.27" width="3.46" height="3.46" fill="#15508c"/>
<rect x="245.07" y="388.27" width="3.46" height="3.46" fill="#15508c"/>
<line x1="255.2" y1="360.5" x2="264.2" y2="360.5" stroke="#33b24a" stroke-width="1.4" stroke-linecap="butt"/>
<line x1="259.7" y1="355.6" x2="259.7" y2="364.4" stroke="#33b24a" stroke-width="1.1" stroke-linecap="butt"/>
<line x1="257.5" y1="355.6" x2="261.9" y2="355.6" stroke="#33b24a" stroke-width="1.1" stroke-linecap="butt"/>
<line x1="257.5" y1="364.4" x2="261.9" y2="364.4" stroke="#33b24a" stroke-width="1.1" stroke-linecap="butt"/>
<circle cx="259.7" cy="352.4" r="1.78" fill="#33b24a"/>
<circle cx="259.7" cy="356" r="1.78" fill="#33b24a"/>
<circle cx="259.7" cy="364" r="1.78" fill="#33b24a"/>
<circle cx="259.7" cy="367" r="1.78" fill="#33b24a"/>
<circle cx="259.7" cy="369.7" r="1.78" fill="#33b24a"/>
<line x1="267.8" y1="368" x2="276.8" y2="368" stroke="#f7941d" stroke-width="1.4" stroke-linecap="butt"/>
<line x1="272.3" y1="364.1" x2="272.3" y2="372.4" stroke="#f7941d" stroke-width="1.1" stroke-linecap="butt"/>
<line x1="270.1" y1="364.1" x2="274.5" y2="364.1" stroke="#f7941d" stroke-width="1.1" stroke-linecap="butt"/>
<line x1="270.1" y1="372.4" x2="274.5" y2="372.4" stroke="#f7941d" stroke-width="1.1" stroke-linecap="butt"/>
<path d="M268.56,367.39H272.04L270.3,364.09Z" fill="#f7941d"/>
<path d="M272.56,367.39H276.04L274.3,364.09Z" fill="#f7941d"/>
<path d="M268.56,371.39H272.04L270.3,368.09Z" fill="#f7941d"/>
<path d="M272.56,370.39H276.04L274.3,367.09Z" fill="#f7941d"/>
<path d="M270.56,383.49H274.04L272.3,380.19Z" fill="#f7941d"/>
<text x="295.5" y="313.4" font-size="11.3" text-anchor="start" font-weight="bold" fill="#000" stroke="#000" stroke-width="0.35">G</text>
<line x1="319.6" y1="318" x2="319.6" y2="402.8" stroke="#2a2a2a" stroke-width="1.8" stroke-linecap="butt"/>
<line x1="316.8" y1="401.9" x2="319.6" y2="401.9" stroke="#1c1c1c" stroke-width="1" stroke-linecap="butt"/>
<text x="315" y="404.7" font-size="7.8" text-anchor="end" font-weight="normal" fill="#1a1a1a" stroke="#1a1a1a" stroke-width="0.12">0</text>
<line x1="316.8" y1="385.1" x2="319.6" y2="385.1" stroke="#1c1c1c" stroke-width="1" stroke-linecap="butt"/>
<text x="315" y="387.9" font-size="7.8" text-anchor="end" font-weight="normal" fill="#1a1a1a" stroke="#1a1a1a" stroke-width="0.12">2</text>
<line x1="316.8" y1="368.3" x2="319.6" y2="368.3" stroke="#1c1c1c" stroke-width="1" stroke-linecap="butt"/>
<text x="315" y="371.1" font-size="7.8" text-anchor="end" font-weight="normal" fill="#1a1a1a" stroke="#1a1a1a" stroke-width="0.12">4</text>
<line x1="316.8" y1="351.5" x2="319.6" y2="351.5" stroke="#1c1c1c" stroke-width="1" stroke-linecap="butt"/>
<text x="315" y="354.3" font-size="7.8" text-anchor="end" font-weight="normal" fill="#1a1a1a" stroke="#1a1a1a" stroke-width="0.12">6</text>
<line x1="316.8" y1="334.7" x2="319.6" y2="334.7" stroke="#1c1c1c" stroke-width="1" stroke-linecap="butt"/>
<text x="315" y="337.5" font-size="7.8" text-anchor="end" font-weight="normal" fill="#1a1a1a" stroke="#1a1a1a" stroke-width="0.12">8</text>
<line x1="316.8" y1="317.9" x2="319.6" y2="317.9" stroke="#1c1c1c" stroke-width="1" stroke-linecap="butt"/>
<text x="315" y="320.7" font-size="7.8" text-anchor="end" font-weight="normal" fill="#1a1a1a" stroke="#1a1a1a" stroke-width="0.12">10</text>
<text x="305" y="360.7" font-size="7.5" text-anchor="middle" font-weight="normal" fill="#111" stroke="#111" stroke-width="0.3" transform="rotate(-90 305 360.7)" textLength="58.5" lengthAdjust="spacingAndGlyphs">% cleaved-caspase 3<tspan font-size="5" dy="-2.6">+</tspan></text>
<line x1="318.7" y1="401.9" x2="512.2" y2="401.9" stroke="#2a2a2a" stroke-width="1.8" stroke-linecap="butt"/>
<line x1="352.5" y1="401.9" x2="352.5" y2="404.4" stroke="#1c1c1c" stroke-width="1" stroke-linecap="butt"/>
<text x="352.5" y="412.6" font-size="7.6" text-anchor="middle" font-weight="normal" fill="#1a1a1a" stroke="#1a1a1a" stroke-width="0.12" textLength="10.6" lengthAdjust="spacingAndGlyphs">PB</text>
<line x1="417.9" y1="401.9" x2="417.9" y2="404.4" stroke="#1c1c1c" stroke-width="1" stroke-linecap="butt"/>
<text x="417.9" y="412.6" font-size="7.6" text-anchor="middle" font-weight="normal" fill="#1a1a1a" stroke="#1a1a1a" stroke-width="0.12" textLength="22.9" lengthAdjust="spacingAndGlyphs">Spleen</text>
<line x1="483.6" y1="401.9" x2="483.6" y2="404.4" stroke="#1c1c1c" stroke-width="1" stroke-linecap="butt"/>
<text x="483.6" y="412.6" font-size="7.6" text-anchor="middle" font-weight="normal" fill="#1a1a1a" stroke="#1a1a1a" stroke-width="0.12" textLength="9.5" lengthAdjust="spacingAndGlyphs">LN</text>
<line x1="400.5" y1="343.1" x2="436.1" y2="343.1" stroke="#3a3a3a" stroke-width="1.2" stroke-linecap="butt"/>
<path d="M416,339.11V341.29M415.05,339.65L416.95,340.75M415.05,340.75L416.95,339.65" stroke="#1a1a1a" stroke-width="0.75"/>
<circle cx="416" cy="340.2" r="0.57" fill="#1a1a1a"/>
<path d="M418.9,339.11V341.29M417.95,339.65L419.85,340.75M417.95,340.75L419.85,339.65" stroke="#1a1a1a" stroke-width="0.75"/>
<circle cx="418.9" cy="340.2" r="0.57" fill="#1a1a1a"/>
<path d="M421.8,339.11V341.29M420.85,339.65L422.75,340.75M420.85,340.75L422.75,339.65" stroke="#1a1a1a" stroke-width="0.75"/>
<circle cx="421.8" cy="340.2" r="0.57" fill="#1a1a1a"/>
<line x1="466.3" y1="342.9" x2="501.8" y2="342.9" stroke="#3a3a3a" stroke-width="1.2" stroke-linecap="butt"/>
<path d="M478.75,339.11V341.29M477.8,339.65L479.7,340.75M477.8,340.75L479.7,339.65" stroke="#1a1a1a" stroke-width="0.75"/>
<circle cx="478.75" cy="340.2" r="0.57" fill="#1a1a1a"/>
<path d="M481.85,339.11V341.29M480.9,339.65L482.8,340.75M480.9,340.75L482.8,339.65" stroke="#1a1a1a" stroke-width="0.75"/>
<circle cx="481.85" cy="340.2" r="0.57" fill="#1a1a1a"/>
<path d="M484.95,339.11V341.29M484,339.65L485.9,340.75M484,340.75L485.9,339.65" stroke="#1a1a1a" stroke-width="0.75"/>
<circle cx="484.95" cy="340.2" r="0.57" fill="#1a1a1a"/>
<path d="M488.05,339.11V341.29M487.1,339.65L489,340.75M487.1,340.75L489,339.65" stroke="#1a1a1a" stroke-width="0.75"/>
<circle cx="488.05" cy="340.2" r="0.57" fill="#1a1a1a"/>
<line x1="329.15" y1="400.6" x2="340.65" y2="400.6" stroke="#c8203c" stroke-width="1.4" stroke-linecap="butt"/>
<path d="M329.29,399.01H332.51L330.9,402.08Z" fill="#c8203c"/>
<path d="M333.29,399.01H336.51L334.9,402.08Z" fill="#c8203c"/>
<path d="M337.29,399.01H340.51L338.9,402.08Z" fill="#c8203c"/>
<line x1="346.75" y1="400.6" x2="358.25" y2="400.6" stroke="#15508c" stroke-width="1.4" stroke-linecap="butt"/>
<line x1="352.5" y1="399.5" x2="352.5" y2="401.5" stroke="#15508c" stroke-width="1.1" stroke-linecap="butt"/>
<line x1="351" y1="399.5" x2="354" y2="399.5" stroke="#15508c" stroke-width="1.1" stroke-linecap="butt"/>
<line x1="351" y1="401.5" x2="354" y2="401.5" stroke="#15508c" stroke-width="1.1" stroke-linecap="butt"/>
<rect x="346.99" y="398.99" width="3.02" height="3.02" fill="#15508c"/>
<rect x="350.99" y="398.29" width="3.02" height="3.02" fill="#15508c"/>
<rect x="354.99" y="398.79" width="3.02" height="3.02" fill="#15508c"/>
<line x1="364.3" y1="394.4" x2="376.3" y2="394.4" stroke="#33b24a" stroke-width="1.4" stroke-linecap="butt"/>
<circle cx="366.3" cy="394.6" r="1.54" fill="#33b24a"/>
<circle cx="370.3" cy="393.8" r="1.54" fill="#33b24a"/>
<circle cx="374.3" cy="394.6" r="1.54" fill="#33b24a"/>
<line x1="395.3" y1="396.7" x2="405.3" y2="396.7" stroke="#c8203c" stroke-width="1.4" stroke-linecap="butt"/>
<line x1="400.3" y1="394.5" x2="400.3" y2="398.5" stroke="#c8203c" stroke-width="1.1" stroke-linecap="butt"/>
<line x1="398.3" y1="394.5" x2="402.3" y2="394.5" stroke="#c8203c" stroke-width="1.1" stroke-linecap="butt"/>
<line x1="398.3" y1="398.5" x2="402.3" y2="398.5" stroke="#c8203c" stroke-width="1.1" stroke-linecap="butt"/>
<path d="M398.69,391.81H401.91L400.3,394.88Z" fill="#c8203c"/>
<path d="M396.19,395.71H399.41L397.8,398.78Z" fill="#c8203c"/>
<path d="M401.19,395.71H404.41L402.8,398.78Z" fill="#c8203c"/>
<line x1="412.4" y1="400.6" x2="423.4" y2="400.6" stroke="#15508c" stroke-width="1.4" stroke-linecap="butt"/>
<rect x="413.39" y="398.99" width="3.02" height="3.02" fill="#15508c"/>
<rect x="416.39" y="398.49" width="3.02" height="3.02" fill="#15508c"/>
<rect x="419.39" y="398.99" width="3.02" height="3.02" fill="#15508c"/>
<line x1="430.2" y1="377.8" x2="441.2" y2="377.8" stroke="#33b24a" stroke-width="1.4" stroke-linecap="butt"/>
<line x1="435.7" y1="370.7" x2="435.7" y2="383.7" stroke="#33b24a" stroke-width="1.1" stroke-linecap="butt"/>
<line x1="433.2" y1="370.7" x2="438.2" y2="370.7" stroke="#33b24a" stroke-width="1.1" stroke-linecap="butt"/>
<line x1="433.2" y1="383.7" x2="438.2" y2="383.7" stroke="#33b24a" stroke-width="1.1" stroke-linecap="butt"/>
<circle cx="435.7" cy="366.7" r="1.78" fill="#33b24a"/>
<circle cx="435.7" cy="377.8" r="1.78" fill="#33b24a"/>
<circle cx="435.7" cy="389.8" r="1.78" fill="#33b24a"/>
<line x1="461" y1="398.7" x2="471" y2="398.7" stroke="#c8203c" stroke-width="1.4" stroke-linecap="butt"/>
<path d="M461.39,397.71H464.61L463,400.78Z" fill="#c8203c"/>
<path d="M464.39,396.71H467.61L466,399.78Z" fill="#c8203c"/>
<path d="M467.39,397.71H470.61L469,400.78Z" fill="#c8203c"/>
<line x1="478.6" y1="399.2" x2="488.6" y2="399.2" stroke="#15508c" stroke-width="1.4" stroke-linecap="butt"/>
<rect x="479.09" y="397.99" width="3.02" height="3.02" fill="#15508c"/>
<rect x="482.09" y="397.49" width="3.02" height="3.02" fill="#15508c"/>
<rect x="485.09" y="397.29" width="3.02" height="3.02" fill="#15508c"/>
<line x1="495.9" y1="372" x2="506.9" y2="372" stroke="#33b24a" stroke-width="1.4" stroke-linecap="butt"/>
<line x1="501.4" y1="364.9" x2="501.4" y2="377.9" stroke="#33b24a" stroke-width="1.1" stroke-linecap="butt"/>
<line x1="498.9" y1="364.9" x2="503.9" y2="364.9" stroke="#33b24a" stroke-width="1.1" stroke-linecap="butt"/>
<line x1="498.9" y1="377.9" x2="503.9" y2="377.9" stroke="#33b24a" stroke-width="1.1" stroke-linecap="butt"/>
<circle cx="501.4" cy="363.3" r="1.78" fill="#33b24a"/>
<circle cx="501.4" cy="367.3" r="1.78" fill="#33b24a"/>
<circle cx="501.4" cy="384.3" r="1.78" fill="#33b24a"/>
<rect x="0" y="0" width="520" height="1.4" fill="#000"/>
<rect x="0" y="0" width="1.3" height="419" fill="#000"/>
<rect x="518.6" y="0" width="1.4" height="419" fill="#000"/>
<rect x="0" y="416.8" width="520" height="2.2" fill="#000"/>
</svg></body></html>
